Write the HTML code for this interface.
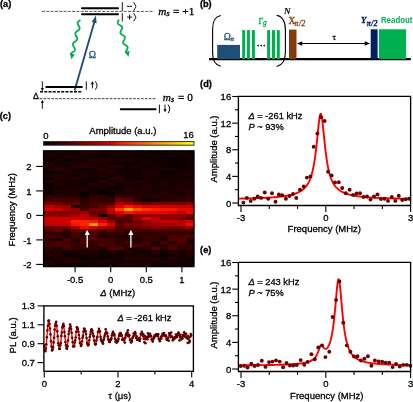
<!DOCTYPE html>
<html><head><meta charset="utf-8"><style>
html,body{margin:0;padding:0;background:#fff;}
svg{display:block;will-change:transform;}

</style></head><body>
<svg width="413" height="402" viewBox="0 0 413 402">
<text x="0.00" y="6.90" font-size="9.2" text-anchor="start" fill="#000" font-weight="bold" font-style="normal" font-family='"Liberation Sans", sans-serif' stroke="#000" stroke-width="0.3" >(a)</text>
<line x1="42.00" y1="11.40" x2="154.00" y2="11.40" stroke="#444" stroke-width="0.9" stroke-dasharray="3,1.3"/>
<line x1="82.00" y1="8.20" x2="118.00" y2="8.20" stroke="#000" stroke-width="2.0" stroke-linecap="round"/>
<line x1="82.00" y1="14.25" x2="118.00" y2="14.25" stroke="#000" stroke-width="2.0" stroke-linecap="round"/>
<line x1="122.30" y1="2.20" x2="122.30" y2="10.90" stroke="#000" stroke-width="0.9" />
<line x1="122.30" y1="13.10" x2="122.30" y2="21.40" stroke="#000" stroke-width="0.9" />
<line x1="127.00" y1="6.30" x2="132.20" y2="6.30" stroke="#000" stroke-width="0.9" />
<line x1="127.00" y1="17.10" x2="132.20" y2="17.10" stroke="#000" stroke-width="0.9" />
<line x1="129.60" y1="14.50" x2="129.60" y2="19.70" stroke="#000" stroke-width="0.9" />
<path d="M133.6,2.2 L136,6.5 L133.6,10.9" fill="none" stroke="#000" stroke-width="0.9"/>
<path d="M133.6,13.1 L136,17.3 L133.6,21.4" fill="none" stroke="#000" stroke-width="0.9"/>
<text x="158.30" y="14.70" font-size="11.3" text-anchor="start" fill="#000" font-weight="normal" font-style="italic" font-family='"Liberation Serif", serif' stroke="#000" stroke-width="0.3" >m</text>
<text x="166.60" y="16.30" font-size="8" text-anchor="start" fill="#000" font-weight="normal" font-style="italic" font-family='"Liberation Serif", serif' stroke="#000" stroke-width="0.3" >s</text>
<text x="173.10" y="14.70" font-size="11.3" text-anchor="start" fill="#000" font-weight="normal" font-style="normal" font-family='"Liberation Serif", serif' stroke="#000" stroke-width="0.3" >= +1</text>
<line x1="74.60" y1="90.60" x2="94.50" y2="21.50" stroke="#1f4e79" stroke-width="1.9" />
<path d="M95.9,15.6 L91.7,22.0 L96.6,23.3 Z" fill="#1f4e79"/>
<text x="88.80" y="57.80" font-size="9.8" text-anchor="start" fill="#1f4e79" font-weight="normal" font-style="normal" font-family='"Liberation Serif", serif' stroke="#1f4e79" stroke-width="0.3" >Ω</text>
<path d="M79.80,20.40 L79.32,20.74 L78.86,21.08 L78.45,21.43 L78.11,21.80 L77.84,22.19 L77.68,22.60 L77.61,23.03 L77.63,23.48 L77.75,23.95 L77.94,24.44 L78.19,24.94 L78.48,25.44 L78.77,25.96 L79.06,26.46 L79.31,26.96 L79.50,27.45 L79.62,27.92 L79.64,28.37 L79.57,28.80 L79.41,29.21 L79.15,29.60 L78.80,29.96 L78.39,30.32 L77.93,30.66 L77.45,31.00 L76.97,31.34 L76.51,31.68 L76.10,32.03 L75.76,32.40 L75.50,32.79 L75.33,33.20 L75.26,33.63 L75.29,34.08 L75.40,34.55 L75.59,35.04 L75.84,35.54 L76.13,36.04 L76.42,36.55 L76.71,37.06 L76.96,37.56 L77.15,38.05 L77.27,38.52 L77.29,38.97 L77.22,39.40 L77.06,39.81 L76.80,40.20 L76.45,40.56 L76.04,40.92 L75.58,41.26 L75.10,41.60 L74.62,41.94 L74.16,42.28 L73.75,42.63 L73.41,43.00 L73.15,43.39 L72.98,43.80 L72.91,44.23 L72.94,44.68 L73.05,45.15 L73.24,45.64 L73.49,46.14 L73.78,46.64 L74.08,47.15 L74.36,47.66 L74.61,48.16 L74.80,48.65 L74.92,49.12 L74.94,49.57 L74.87,50.00 L74.71,50.41 L74.45,50.79 L74.10,51.16 L73.69,51.52 L73.23,51.86 L72.75,52.20 L72.27,52.54 L71.81,52.88 L71.40,53.23 L71.06,53.60 L70.80,53.99" fill="none" stroke="#00b050" stroke-width="1.8" stroke-linecap="round"/>
<path d="M71.20,59.20 L69.85,53.27 L74.93,54.39 Z" fill="#00b050"/>
<path d="M118.60,20.20 L118.32,20.70 L118.07,21.20 L117.87,21.68 L117.73,22.14 L117.67,22.59 L117.71,23.00 L117.84,23.39 L118.07,23.76 L118.39,24.10 L118.78,24.42 L119.23,24.72 L119.71,25.02 L120.20,25.31 L120.69,25.61 L121.14,25.91 L121.53,26.23 L121.84,26.57 L122.07,26.94 L122.20,27.33 L122.24,27.74 L122.18,28.19 L122.04,28.65 L121.84,29.13 L121.59,29.63 L121.31,30.13 L121.04,30.63 L120.79,31.13 L120.58,31.61 L120.44,32.08 L120.39,32.52 L120.42,32.93 L120.56,33.32 L120.78,33.69 L121.10,34.03 L121.49,34.35 L121.94,34.65 L122.42,34.95 L122.92,35.24 L123.40,35.54 L123.85,35.84 L124.24,36.16 L124.55,36.50 L124.78,36.87 L124.92,37.26 L124.95,37.67 L124.90,38.12 L124.76,38.58 L124.55,39.06 L124.30,39.56 L124.03,40.06 L123.75,40.56 L123.50,41.06 L123.30,41.54 L123.16,42.01 L123.10,42.45 L123.14,42.86 L123.27,43.26 L123.50,43.62 L123.81,43.96 L124.20,44.28 L124.65,44.59 L125.14,44.88 L125.63,45.17 L126.11,45.47 L126.56,45.77 L126.95,46.09 L127.27,46.43 L127.50,46.80 L127.63,47.19 L127.66,47.60 L127.61,48.05 L127.47,48.51 L127.27,48.99 L127.01,49.49 L126.74,49.99 L126.46,50.49 L126.21,50.99 L126.01,51.47 L125.87,51.94 L125.81,52.38" fill="none" stroke="#00b050" stroke-width="1.8" stroke-linecap="round"/>
<path d="M128.60,56.80 L124.64,52.18 L129.66,50.81 Z" fill="#00b050"/>
<line x1="46.30" y1="86.90" x2="81.80" y2="86.90" stroke="#000" stroke-width="2.0" stroke-linecap="round"/>
<line x1="40.00" y1="91.80" x2="81.80" y2="91.80" stroke="#000" stroke-width="1.5" stroke-dasharray="3,1.25"/>
<line x1="39.60" y1="98.70" x2="156.00" y2="98.70" stroke="#222" stroke-width="0.9" stroke-dasharray="2.6,1.3"/>
<line x1="120.80" y1="109.20" x2="155.60" y2="109.20" stroke="#000" stroke-width="2.0" stroke-linecap="round"/>
<line x1="42.35" y1="81.20" x2="42.35" y2="88.50" stroke="#000" stroke-width="0.9" />
<path d="M42.35,91.2 L40.85,87.9 L43.85,87.9 Z" fill="#000"/>
<line x1="42.35" y1="102.50" x2="42.35" y2="108.70" stroke="#000" stroke-width="0.9" />
<path d="M42.35,99.8 L40.85,103.1 L43.85,103.1 Z" fill="#000"/>
<text x="33.00" y="98.80" font-size="8.6" text-anchor="start" fill="#000" font-weight="normal" font-style="normal" font-family='"Liberation Sans", sans-serif' stroke="#000" stroke-width="0.3" >Δ</text>
<line x1="86.30" y1="81.40" x2="86.30" y2="89.60" stroke="#000" stroke-width="0.95" />
<line x1="92.40" y1="83.60" x2="92.40" y2="88.40" stroke="#000" stroke-width="0.9" />
<path d="M92.40,81.30 L90.80,84.20 L94.00,84.20 Z" fill="#000"/>
<path d="M95.30,81.40 Q98.70,85.50 95.30,89.60" fill="none" stroke="#000" stroke-width="1.0"/>
<line x1="159.40" y1="104.60" x2="159.40" y2="113.20" stroke="#000" stroke-width="0.95" />
<line x1="165.00" y1="104.60" x2="165.00" y2="109.80" stroke="#000" stroke-width="0.9" />
<path d="M165.00,112.20 L163.40,109.30 L166.60,109.30 Z" fill="#000"/>
<path d="M168.00,104.60 Q171.40,108.90 168.00,113.20" fill="none" stroke="#000" stroke-width="1.0"/>
<text x="162.70" y="100.60" font-size="11.3" text-anchor="start" fill="#000" font-weight="normal" font-style="italic" font-family='"Liberation Serif", serif' stroke="#000" stroke-width="0.3" >m</text>
<text x="170.90" y="102.40" font-size="8" text-anchor="start" fill="#000" font-weight="normal" font-style="italic" font-family='"Liberation Serif", serif' stroke="#000" stroke-width="0.3" >s</text>
<text x="178.00" y="100.60" font-size="11.3" text-anchor="start" fill="#000" font-weight="normal" font-style="normal" font-family='"Liberation Serif", serif' stroke="#000" stroke-width="0.3" >= 0</text>
<text x="199.90" y="7.30" font-size="9.2" text-anchor="start" fill="#000" font-weight="bold" font-style="normal" font-family='"Liberation Sans", sans-serif' stroke="#000" stroke-width="0.3" >(b)</text>
<line x1="209.00" y1="59.10" x2="410.80" y2="59.10" stroke="#000" stroke-width="2.2" />
<rect x="217.20" y="44.90" width="22.80" height="14.20" fill="#1f4e79" />
<rect x="242.20" y="30.10" width="3.00" height="29.00" fill="#00b050" />
<rect x="246.90" y="30.10" width="3.00" height="29.00" fill="#00b050" />
<rect x="251.90" y="30.10" width="3.00" height="29.00" fill="#00b050" />
<rect x="267.10" y="30.10" width="3.00" height="29.00" fill="#00b050" />
<rect x="272.00" y="30.10" width="3.00" height="29.00" fill="#00b050" />
<rect x="276.80" y="30.10" width="3.00" height="29.00" fill="#00b050" />
<circle cx="258.2" cy="45.6" r="0.85" fill="#000"/>
<circle cx="261.2" cy="45.6" r="0.85" fill="#000"/>
<circle cx="264.2" cy="45.6" r="0.85" fill="#000"/>
<path d="M220.8,15.5 C215,16.5 212.6,21 212.6,29 L212.6,53 C212.6,61 215,65 220.8,66.3" fill="none" stroke="#000" stroke-width="1.1"/>
<path d="M276.6,15.3 C283.4,16.5 285.4,22 285.4,30 L285.4,52 C285.4,60 283.4,65 276.6,66.5" fill="none" stroke="#000" stroke-width="1.1"/>
<text x="284.00" y="14.00" font-size="9.0" text-anchor="start" fill="#000" font-weight="bold" font-style="italic" font-family='"Liberation Serif", serif' stroke="#000" stroke-width="0.1" >N</text>
<text x="223.70" y="40.00" font-size="9.5" text-anchor="start" fill="#1f4e79" font-weight="normal" font-style="normal" font-family='"Liberation Serif", serif' stroke="#1f4e79" stroke-width="0.3" >Ω</text>
<text x="230.60" y="41.20" font-size="7" text-anchor="start" fill="#1f4e79" font-weight="normal" font-style="italic" font-family='"Liberation Serif", serif' stroke="#1f4e79" stroke-width="0.3" >π</text>
<text x="258.60" y="23.60" font-size="8.2" text-anchor="start" fill="#00b050" font-weight="normal" font-style="normal" font-family='"Liberation Serif", serif' stroke="#00b050" stroke-width="0.3" >Γ</text>
<text x="263.00" y="25.20" font-size="7.5" text-anchor="start" fill="#00b050" font-weight="normal" font-style="italic" font-family='"Liberation Serif", serif' stroke="#00b050" stroke-width="0.3" >g</text>
<rect x="289.00" y="29.60" width="7.50" height="29.50" fill="#843c0c" />
<text x="288.50" y="24.00" font-size="9.3" text-anchor="start" fill="#843c0c" font-weight="normal" font-style="normal" font-family='"Liberation Serif", serif' stroke="#843c0c" stroke-width="0.3" >X</text>
<text x="294.60" y="26.00" font-size="7.6" text-anchor="start" fill="#843c0c" font-weight="normal" font-style="italic" font-family='"Liberation Serif", serif' stroke="#843c0c" stroke-width="0.3" letter-spacing="0.5">π/2</text>
<line x1="299.00" y1="43.50" x2="368.00" y2="43.50" stroke="#000" stroke-width="1.0" />
<path d="M297.0,43.5 L302.2,41.3 L302.2,45.7 Z" fill="#000"/>
<path d="M370.0,43.5 L364.8,41.3 L364.8,45.7 Z" fill="#000"/>
<text x="332.40" y="39.70" font-size="8.5" text-anchor="start" fill="#000" font-weight="normal" font-style="normal" font-family='"Liberation Serif", serif' stroke="#000" stroke-width="0.3" >τ</text>
<rect x="370.70" y="29.30" width="6.90" height="29.80" fill="#002060" />
<rect x="378.90" y="29.30" width="27.20" height="29.80" fill="#00b050" />
<text x="361.00" y="22.50" font-size="8.8" text-anchor="start" fill="#002060" font-weight="bold" font-style="italic" font-family='"Liberation Serif", serif' stroke="#002060" stroke-width="0.3" >Y</text>
<text x="366.80" y="25.60" font-size="7.6" text-anchor="start" fill="#002060" font-weight="bold" font-style="italic" font-family='"Liberation Serif", serif' stroke="#002060" stroke-width="0.3" letter-spacing="0.4">π/2</text>
<text x="380.90" y="23.40" font-size="8.3" text-anchor="start" fill="#00b050" font-weight="bold" font-style="normal" font-family='"Liberation Sans", sans-serif' textLength="31.6" lengthAdjust="spacingAndGlyphs">Readout</text>
<text x="-0.20" y="119.10" font-size="9.2" text-anchor="start" fill="#000" font-weight="bold" font-style="normal" font-family='"Liberation Sans", sans-serif' stroke="#000" stroke-width="0.3" >(c)</text>
<text x="43.30" y="139.00" font-size="9.5" text-anchor="start" fill="#000" font-weight="normal" font-style="normal" font-family='"Liberation Sans", sans-serif' stroke="#000" stroke-width="0.3" >0</text>
<text x="193.80" y="138.20" font-size="9.5" text-anchor="end" fill="#000" font-weight="normal" font-style="normal" font-family='"Liberation Sans", sans-serif' stroke="#000" stroke-width="0.3" >16</text>
<text x="89.30" y="134.30" font-size="9.5" text-anchor="start" fill="#000" font-weight="normal" font-style="normal" font-family='"Liberation Sans", sans-serif' stroke="#000" stroke-width="0.3" >Amplitude (a.u.)</text>
<defs><linearGradient id="cb" x1="0" x2="1" y1="0" y2="0"><stop offset="0.00" stop-color="#000000"/><stop offset="0.05" stop-color="#180000"/><stop offset="0.10" stop-color="#310000"/><stop offset="0.15" stop-color="#490000"/><stop offset="0.20" stop-color="#620000"/><stop offset="0.25" stop-color="#7a0000"/><stop offset="0.30" stop-color="#930000"/><stop offset="0.35" stop-color="#ab0000"/><stop offset="0.40" stop-color="#c40000"/><stop offset="0.45" stop-color="#dc0000"/><stop offset="0.50" stop-color="#f51700"/><stop offset="0.55" stop-color="#ff2e00"/><stop offset="0.60" stop-color="#ff4500"/><stop offset="0.65" stop-color="#ff5c00"/><stop offset="0.70" stop-color="#ff7300"/><stop offset="0.75" stop-color="#ff8b00"/><stop offset="0.80" stop-color="#ffa200"/><stop offset="0.85" stop-color="#ffb900"/><stop offset="0.90" stop-color="#ffd000"/><stop offset="0.95" stop-color="#ffe700"/><stop offset="1.00" stop-color="#ffff00"/></linearGradient></defs>
<rect x="43.6" y="141.6" width="150.4" height="3.6" fill="url(#cb)" stroke="#222" stroke-width="0.9"/>
<g shape-rendering="crispEdges">
<rect x="43.60" y="150.80" width="10.40" height="2.07" fill="#1b0000"/>
<rect x="53.70" y="150.80" width="9.13" height="2.07" fill="#200000"/>
<rect x="62.52" y="150.80" width="9.13" height="2.07" fill="#130000"/>
<rect x="71.35" y="150.80" width="9.13" height="2.07" fill="#1a0000"/>
<rect x="80.18" y="150.80" width="9.13" height="2.07" fill="#260000"/>
<rect x="89.00" y="150.80" width="9.13" height="2.07" fill="#260000"/>
<rect x="97.83" y="150.80" width="9.13" height="2.07" fill="#0d0000"/>
<rect x="106.66" y="150.80" width="9.13" height="2.07" fill="#100000"/>
<rect x="115.49" y="150.80" width="9.13" height="2.07" fill="#0b0000"/>
<rect x="124.31" y="150.80" width="9.13" height="2.07" fill="#090000"/>
<rect x="133.14" y="150.80" width="9.13" height="2.07" fill="#140000"/>
<rect x="141.97" y="150.80" width="9.13" height="2.07" fill="#120000"/>
<rect x="150.79" y="150.80" width="9.13" height="2.07" fill="#0c0000"/>
<rect x="159.62" y="150.80" width="9.13" height="2.07" fill="#140000"/>
<rect x="168.45" y="150.80" width="9.13" height="2.07" fill="#170000"/>
<rect x="177.28" y="150.80" width="9.13" height="2.07" fill="#160000"/>
<rect x="186.10" y="150.80" width="8.20" height="2.07" fill="#0b0000"/>
<rect x="43.60" y="152.57" width="10.40" height="3.36" fill="#1b0000"/>
<rect x="53.70" y="152.57" width="9.13" height="3.36" fill="#120000"/>
<rect x="62.52" y="152.57" width="9.13" height="3.36" fill="#170000"/>
<rect x="71.35" y="152.57" width="9.13" height="3.36" fill="#120000"/>
<rect x="80.18" y="152.57" width="9.13" height="3.36" fill="#1f0000"/>
<rect x="89.00" y="152.57" width="9.13" height="3.36" fill="#170000"/>
<rect x="97.83" y="152.57" width="9.13" height="3.36" fill="#0e0000"/>
<rect x="106.66" y="152.57" width="9.13" height="3.36" fill="#1b0000"/>
<rect x="115.49" y="152.57" width="9.13" height="3.36" fill="#220000"/>
<rect x="124.31" y="152.57" width="9.13" height="3.36" fill="#170000"/>
<rect x="133.14" y="152.57" width="9.13" height="3.36" fill="#0f0000"/>
<rect x="141.97" y="152.57" width="9.13" height="3.36" fill="#180000"/>
<rect x="150.79" y="152.57" width="9.13" height="3.36" fill="#130000"/>
<rect x="159.62" y="152.57" width="9.13" height="3.36" fill="#0b0000"/>
<rect x="168.45" y="152.57" width="9.13" height="3.36" fill="#160000"/>
<rect x="177.28" y="152.57" width="9.13" height="3.36" fill="#130000"/>
<rect x="186.10" y="152.57" width="8.20" height="3.36" fill="#110000"/>
<rect x="43.60" y="155.63" width="10.40" height="3.36" fill="#150000"/>
<rect x="53.70" y="155.63" width="9.13" height="3.36" fill="#0c0000"/>
<rect x="62.52" y="155.63" width="9.13" height="3.36" fill="#1e0000"/>
<rect x="71.35" y="155.63" width="9.13" height="3.36" fill="#1b0000"/>
<rect x="80.18" y="155.63" width="9.13" height="3.36" fill="#150000"/>
<rect x="89.00" y="155.63" width="9.13" height="3.36" fill="#100000"/>
<rect x="97.83" y="155.63" width="9.13" height="3.36" fill="#160000"/>
<rect x="106.66" y="155.63" width="9.13" height="3.36" fill="#180000"/>
<rect x="115.49" y="155.63" width="9.13" height="3.36" fill="#120000"/>
<rect x="124.31" y="155.63" width="9.13" height="3.36" fill="#150000"/>
<rect x="133.14" y="155.63" width="9.13" height="3.36" fill="#110000"/>
<rect x="141.97" y="155.63" width="9.13" height="3.36" fill="#0a0000"/>
<rect x="150.79" y="155.63" width="9.13" height="3.36" fill="#190000"/>
<rect x="159.62" y="155.63" width="9.13" height="3.36" fill="#0f0000"/>
<rect x="168.45" y="155.63" width="9.13" height="3.36" fill="#0e0000"/>
<rect x="177.28" y="155.63" width="9.13" height="3.36" fill="#0a0000"/>
<rect x="186.10" y="155.63" width="8.20" height="3.36" fill="#160000"/>
<rect x="43.60" y="158.69" width="10.40" height="3.36" fill="#100000"/>
<rect x="53.70" y="158.69" width="9.13" height="3.36" fill="#1a0000"/>
<rect x="62.52" y="158.69" width="9.13" height="3.36" fill="#0c0000"/>
<rect x="71.35" y="158.69" width="9.13" height="3.36" fill="#190000"/>
<rect x="80.18" y="158.69" width="9.13" height="3.36" fill="#150000"/>
<rect x="89.00" y="158.69" width="9.13" height="3.36" fill="#200000"/>
<rect x="97.83" y="158.69" width="9.13" height="3.36" fill="#210000"/>
<rect x="106.66" y="158.69" width="9.13" height="3.36" fill="#1f0000"/>
<rect x="115.49" y="158.69" width="9.13" height="3.36" fill="#1f0000"/>
<rect x="124.31" y="158.69" width="9.13" height="3.36" fill="#1a0000"/>
<rect x="133.14" y="158.69" width="9.13" height="3.36" fill="#120000"/>
<rect x="141.97" y="158.69" width="9.13" height="3.36" fill="#180000"/>
<rect x="150.79" y="158.69" width="9.13" height="3.36" fill="#100000"/>
<rect x="159.62" y="158.69" width="9.13" height="3.36" fill="#110000"/>
<rect x="168.45" y="158.69" width="9.13" height="3.36" fill="#0f0000"/>
<rect x="177.28" y="158.69" width="9.13" height="3.36" fill="#0f0000"/>
<rect x="186.10" y="158.69" width="8.20" height="3.36" fill="#140000"/>
<rect x="43.60" y="161.75" width="10.40" height="3.36" fill="#280000"/>
<rect x="53.70" y="161.75" width="9.13" height="3.36" fill="#110000"/>
<rect x="62.52" y="161.75" width="9.13" height="3.36" fill="#1f0000"/>
<rect x="71.35" y="161.75" width="9.13" height="3.36" fill="#1e0000"/>
<rect x="80.18" y="161.75" width="9.13" height="3.36" fill="#200000"/>
<rect x="89.00" y="161.75" width="9.13" height="3.36" fill="#180000"/>
<rect x="97.83" y="161.75" width="9.13" height="3.36" fill="#1c0000"/>
<rect x="106.66" y="161.75" width="9.13" height="3.36" fill="#0b0000"/>
<rect x="115.49" y="161.75" width="9.13" height="3.36" fill="#0c0000"/>
<rect x="124.31" y="161.75" width="9.13" height="3.36" fill="#100000"/>
<rect x="133.14" y="161.75" width="9.13" height="3.36" fill="#0c0000"/>
<rect x="141.97" y="161.75" width="9.13" height="3.36" fill="#160000"/>
<rect x="150.79" y="161.75" width="9.13" height="3.36" fill="#100000"/>
<rect x="159.62" y="161.75" width="9.13" height="3.36" fill="#110000"/>
<rect x="168.45" y="161.75" width="9.13" height="3.36" fill="#0e0000"/>
<rect x="177.28" y="161.75" width="9.13" height="3.36" fill="#0b0000"/>
<rect x="186.10" y="161.75" width="8.20" height="3.36" fill="#160000"/>
<rect x="43.60" y="164.81" width="10.40" height="3.36" fill="#1b0000"/>
<rect x="53.70" y="164.81" width="9.13" height="3.36" fill="#200000"/>
<rect x="62.52" y="164.81" width="9.13" height="3.36" fill="#120000"/>
<rect x="71.35" y="164.81" width="9.13" height="3.36" fill="#270000"/>
<rect x="80.18" y="164.81" width="9.13" height="3.36" fill="#240000"/>
<rect x="89.00" y="164.81" width="9.13" height="3.36" fill="#200000"/>
<rect x="97.83" y="164.81" width="9.13" height="3.36" fill="#190000"/>
<rect x="106.66" y="164.81" width="9.13" height="3.36" fill="#240000"/>
<rect x="115.49" y="164.81" width="9.13" height="3.36" fill="#210000"/>
<rect x="124.31" y="164.81" width="9.13" height="3.36" fill="#120000"/>
<rect x="133.14" y="164.81" width="9.13" height="3.36" fill="#1b0000"/>
<rect x="141.97" y="164.81" width="9.13" height="3.36" fill="#0c0000"/>
<rect x="150.79" y="164.81" width="9.13" height="3.36" fill="#190000"/>
<rect x="159.62" y="164.81" width="9.13" height="3.36" fill="#0c0000"/>
<rect x="168.45" y="164.81" width="9.13" height="3.36" fill="#0e0000"/>
<rect x="177.28" y="164.81" width="9.13" height="3.36" fill="#0b0000"/>
<rect x="186.10" y="164.81" width="8.20" height="3.36" fill="#140000"/>
<rect x="43.60" y="167.87" width="10.40" height="3.36" fill="#220000"/>
<rect x="53.70" y="167.87" width="9.13" height="3.36" fill="#280000"/>
<rect x="62.52" y="167.87" width="9.13" height="3.36" fill="#240000"/>
<rect x="71.35" y="167.87" width="9.13" height="3.36" fill="#1b0000"/>
<rect x="80.18" y="167.87" width="9.13" height="3.36" fill="#0c0000"/>
<rect x="89.00" y="167.87" width="9.13" height="3.36" fill="#190000"/>
<rect x="97.83" y="167.87" width="9.13" height="3.36" fill="#270000"/>
<rect x="106.66" y="167.87" width="9.13" height="3.36" fill="#220000"/>
<rect x="115.49" y="167.87" width="9.13" height="3.36" fill="#190000"/>
<rect x="124.31" y="167.87" width="9.13" height="3.36" fill="#120000"/>
<rect x="133.14" y="167.87" width="9.13" height="3.36" fill="#110000"/>
<rect x="141.97" y="167.87" width="9.13" height="3.36" fill="#1d0000"/>
<rect x="150.79" y="167.87" width="9.13" height="3.36" fill="#160000"/>
<rect x="159.62" y="167.87" width="9.13" height="3.36" fill="#1c0000"/>
<rect x="168.45" y="167.87" width="9.13" height="3.36" fill="#1b0000"/>
<rect x="177.28" y="167.87" width="9.13" height="3.36" fill="#120000"/>
<rect x="186.10" y="167.87" width="8.20" height="3.36" fill="#170000"/>
<rect x="43.60" y="170.93" width="10.40" height="3.36" fill="#0b0000"/>
<rect x="53.70" y="170.93" width="9.13" height="3.36" fill="#100000"/>
<rect x="62.52" y="170.93" width="9.13" height="3.36" fill="#210000"/>
<rect x="71.35" y="170.93" width="9.13" height="3.36" fill="#1e0000"/>
<rect x="80.18" y="170.93" width="9.13" height="3.36" fill="#190000"/>
<rect x="89.00" y="170.93" width="9.13" height="3.36" fill="#120000"/>
<rect x="97.83" y="170.93" width="9.13" height="3.36" fill="#1e0000"/>
<rect x="106.66" y="170.93" width="9.13" height="3.36" fill="#280000"/>
<rect x="115.49" y="170.93" width="9.13" height="3.36" fill="#170000"/>
<rect x="124.31" y="170.93" width="9.13" height="3.36" fill="#100000"/>
<rect x="133.14" y="170.93" width="9.13" height="3.36" fill="#130000"/>
<rect x="141.97" y="170.93" width="9.13" height="3.36" fill="#190000"/>
<rect x="150.79" y="170.93" width="9.13" height="3.36" fill="#170000"/>
<rect x="159.62" y="170.93" width="9.13" height="3.36" fill="#0e0000"/>
<rect x="168.45" y="170.93" width="9.13" height="3.36" fill="#0e0000"/>
<rect x="177.28" y="170.93" width="9.13" height="3.36" fill="#1a0000"/>
<rect x="186.10" y="170.93" width="8.20" height="3.36" fill="#190000"/>
<rect x="43.60" y="173.99" width="10.40" height="3.36" fill="#1f0000"/>
<rect x="53.70" y="173.99" width="9.13" height="3.36" fill="#260000"/>
<rect x="62.52" y="173.99" width="9.13" height="3.36" fill="#140000"/>
<rect x="71.35" y="173.99" width="9.13" height="3.36" fill="#0b0000"/>
<rect x="80.18" y="173.99" width="9.13" height="3.36" fill="#250000"/>
<rect x="89.00" y="173.99" width="9.13" height="3.36" fill="#130000"/>
<rect x="97.83" y="173.99" width="9.13" height="3.36" fill="#210000"/>
<rect x="106.66" y="173.99" width="9.13" height="3.36" fill="#0e0000"/>
<rect x="115.49" y="173.99" width="9.13" height="3.36" fill="#1f0000"/>
<rect x="124.31" y="173.99" width="9.13" height="3.36" fill="#190000"/>
<rect x="133.14" y="173.99" width="9.13" height="3.36" fill="#120000"/>
<rect x="141.97" y="173.99" width="9.13" height="3.36" fill="#1c0000"/>
<rect x="150.79" y="173.99" width="9.13" height="3.36" fill="#180000"/>
<rect x="159.62" y="173.99" width="9.13" height="3.36" fill="#110000"/>
<rect x="168.45" y="173.99" width="9.13" height="3.36" fill="#110000"/>
<rect x="177.28" y="173.99" width="9.13" height="3.36" fill="#190000"/>
<rect x="186.10" y="173.99" width="8.20" height="3.36" fill="#1f0000"/>
<rect x="43.60" y="177.05" width="10.40" height="3.36" fill="#0e0000"/>
<rect x="53.70" y="177.05" width="9.13" height="3.36" fill="#250000"/>
<rect x="62.52" y="177.05" width="9.13" height="3.36" fill="#230000"/>
<rect x="71.35" y="177.05" width="9.13" height="3.36" fill="#280000"/>
<rect x="80.18" y="177.05" width="9.13" height="3.36" fill="#150000"/>
<rect x="89.00" y="177.05" width="9.13" height="3.36" fill="#100000"/>
<rect x="97.83" y="177.05" width="9.13" height="3.36" fill="#110000"/>
<rect x="106.66" y="177.05" width="9.13" height="3.36" fill="#240000"/>
<rect x="115.49" y="177.05" width="9.13" height="3.36" fill="#280000"/>
<rect x="124.31" y="177.05" width="9.13" height="3.36" fill="#190000"/>
<rect x="133.14" y="177.05" width="9.13" height="3.36" fill="#140000"/>
<rect x="141.97" y="177.05" width="9.13" height="3.36" fill="#1c0000"/>
<rect x="150.79" y="177.05" width="9.13" height="3.36" fill="#130000"/>
<rect x="159.62" y="177.05" width="9.13" height="3.36" fill="#1a0000"/>
<rect x="168.45" y="177.05" width="9.13" height="3.36" fill="#160000"/>
<rect x="177.28" y="177.05" width="9.13" height="3.36" fill="#100000"/>
<rect x="186.10" y="177.05" width="8.20" height="3.36" fill="#180000"/>
<rect x="43.60" y="180.11" width="10.40" height="3.36" fill="#240000"/>
<rect x="53.70" y="180.11" width="9.13" height="3.36" fill="#130000"/>
<rect x="62.52" y="180.11" width="9.13" height="3.36" fill="#120000"/>
<rect x="71.35" y="180.11" width="9.13" height="3.36" fill="#170000"/>
<rect x="80.18" y="180.11" width="9.13" height="3.36" fill="#1b0000"/>
<rect x="89.00" y="180.11" width="9.13" height="3.36" fill="#0c0000"/>
<rect x="97.83" y="180.11" width="9.13" height="3.36" fill="#240000"/>
<rect x="106.66" y="180.11" width="9.13" height="3.36" fill="#1a0000"/>
<rect x="115.49" y="180.11" width="9.13" height="3.36" fill="#220000"/>
<rect x="124.31" y="180.11" width="9.13" height="3.36" fill="#1a0000"/>
<rect x="133.14" y="180.11" width="9.13" height="3.36" fill="#200000"/>
<rect x="141.97" y="180.11" width="9.13" height="3.36" fill="#1d0000"/>
<rect x="150.79" y="180.11" width="9.13" height="3.36" fill="#160000"/>
<rect x="159.62" y="180.11" width="9.13" height="3.36" fill="#1c0000"/>
<rect x="168.45" y="180.11" width="9.13" height="3.36" fill="#150000"/>
<rect x="177.28" y="180.11" width="9.13" height="3.36" fill="#1c0000"/>
<rect x="186.10" y="180.11" width="8.20" height="3.36" fill="#1b0000"/>
<rect x="43.60" y="183.17" width="10.40" height="3.36" fill="#0b0000"/>
<rect x="53.70" y="183.17" width="9.13" height="3.36" fill="#210000"/>
<rect x="62.52" y="183.17" width="9.13" height="3.36" fill="#130000"/>
<rect x="71.35" y="183.17" width="9.13" height="3.36" fill="#1a0000"/>
<rect x="80.18" y="183.17" width="9.13" height="3.36" fill="#0e0000"/>
<rect x="89.00" y="183.17" width="9.13" height="3.36" fill="#280000"/>
<rect x="97.83" y="183.17" width="9.13" height="3.36" fill="#190000"/>
<rect x="106.66" y="183.17" width="9.13" height="3.36" fill="#240000"/>
<rect x="115.49" y="183.17" width="9.13" height="3.36" fill="#0c0000"/>
<rect x="124.31" y="183.17" width="9.13" height="3.36" fill="#1d0000"/>
<rect x="133.14" y="183.17" width="9.13" height="3.36" fill="#150000"/>
<rect x="141.97" y="183.17" width="9.13" height="3.36" fill="#1f0000"/>
<rect x="150.79" y="183.17" width="9.13" height="3.36" fill="#1c0000"/>
<rect x="159.62" y="183.17" width="9.13" height="3.36" fill="#1f0000"/>
<rect x="168.45" y="183.17" width="9.13" height="3.36" fill="#130000"/>
<rect x="177.28" y="183.17" width="9.13" height="3.36" fill="#1f0000"/>
<rect x="186.10" y="183.17" width="8.20" height="3.36" fill="#230000"/>
<rect x="43.60" y="186.23" width="10.40" height="3.36" fill="#0f0000"/>
<rect x="53.70" y="186.23" width="9.13" height="3.36" fill="#170000"/>
<rect x="62.52" y="186.23" width="9.13" height="3.36" fill="#190000"/>
<rect x="71.35" y="186.23" width="9.13" height="3.36" fill="#1c0000"/>
<rect x="80.18" y="186.23" width="9.13" height="3.36" fill="#1d0000"/>
<rect x="89.00" y="186.23" width="9.13" height="3.36" fill="#150000"/>
<rect x="97.83" y="186.23" width="9.13" height="3.36" fill="#1d0000"/>
<rect x="106.66" y="186.23" width="9.13" height="3.36" fill="#0e0000"/>
<rect x="115.49" y="186.23" width="9.13" height="3.36" fill="#120000"/>
<rect x="124.31" y="186.23" width="9.13" height="3.36" fill="#1e0000"/>
<rect x="133.14" y="186.23" width="9.13" height="3.36" fill="#170000"/>
<rect x="141.97" y="186.23" width="9.13" height="3.36" fill="#240000"/>
<rect x="150.79" y="186.23" width="9.13" height="3.36" fill="#1e0000"/>
<rect x="159.62" y="186.23" width="9.13" height="3.36" fill="#190000"/>
<rect x="168.45" y="186.23" width="9.13" height="3.36" fill="#1f0000"/>
<rect x="177.28" y="186.23" width="9.13" height="3.36" fill="#230000"/>
<rect x="186.10" y="186.23" width="8.20" height="3.36" fill="#160000"/>
<rect x="43.60" y="189.29" width="10.40" height="3.36" fill="#0e0000"/>
<rect x="53.70" y="189.29" width="9.13" height="3.36" fill="#1f0000"/>
<rect x="62.52" y="189.29" width="9.13" height="3.36" fill="#230000"/>
<rect x="71.35" y="189.29" width="9.13" height="3.36" fill="#1c0000"/>
<rect x="80.18" y="189.29" width="9.13" height="3.36" fill="#1f0000"/>
<rect x="89.00" y="189.29" width="9.13" height="3.36" fill="#160000"/>
<rect x="97.83" y="189.29" width="9.13" height="3.36" fill="#0b0000"/>
<rect x="106.66" y="189.29" width="9.13" height="3.36" fill="#170000"/>
<rect x="115.49" y="189.29" width="9.13" height="3.36" fill="#150000"/>
<rect x="124.31" y="189.29" width="9.13" height="3.36" fill="#200000"/>
<rect x="133.14" y="189.29" width="9.13" height="3.36" fill="#210000"/>
<rect x="141.97" y="189.29" width="9.13" height="3.36" fill="#260000"/>
<rect x="150.79" y="189.29" width="9.13" height="3.36" fill="#170000"/>
<rect x="159.62" y="189.29" width="9.13" height="3.36" fill="#1f0000"/>
<rect x="168.45" y="189.29" width="9.13" height="3.36" fill="#230000"/>
<rect x="177.28" y="189.29" width="9.13" height="3.36" fill="#210000"/>
<rect x="186.10" y="189.29" width="8.20" height="3.36" fill="#250000"/>
<rect x="43.60" y="192.35" width="10.40" height="3.36" fill="#0e0000"/>
<rect x="53.70" y="192.35" width="9.13" height="3.36" fill="#200000"/>
<rect x="62.52" y="192.35" width="9.13" height="3.36" fill="#1b0000"/>
<rect x="71.35" y="192.35" width="9.13" height="3.36" fill="#1d0000"/>
<rect x="80.18" y="192.35" width="9.13" height="3.36" fill="#0b0000"/>
<rect x="89.00" y="192.35" width="9.13" height="3.36" fill="#170000"/>
<rect x="97.83" y="192.35" width="9.13" height="3.36" fill="#090000"/>
<rect x="106.66" y="192.35" width="9.13" height="3.36" fill="#110000"/>
<rect x="115.49" y="192.35" width="9.13" height="3.36" fill="#200000"/>
<rect x="124.31" y="192.35" width="9.13" height="3.36" fill="#230000"/>
<rect x="133.14" y="192.35" width="9.13" height="3.36" fill="#230000"/>
<rect x="141.97" y="192.35" width="9.13" height="3.36" fill="#220000"/>
<rect x="150.79" y="192.35" width="9.13" height="3.36" fill="#1b0000"/>
<rect x="159.62" y="192.35" width="9.13" height="3.36" fill="#270000"/>
<rect x="168.45" y="192.35" width="9.13" height="3.36" fill="#210000"/>
<rect x="177.28" y="192.35" width="9.13" height="3.36" fill="#180000"/>
<rect x="186.10" y="192.35" width="8.20" height="3.36" fill="#260000"/>
<rect x="43.60" y="195.41" width="10.40" height="3.36" fill="#2c0000"/>
<rect x="53.70" y="195.41" width="9.13" height="3.36" fill="#270000"/>
<rect x="62.52" y="195.41" width="9.13" height="3.36" fill="#270000"/>
<rect x="71.35" y="195.41" width="9.13" height="3.36" fill="#2c0000"/>
<rect x="80.18" y="195.41" width="9.13" height="3.36" fill="#130000"/>
<rect x="89.00" y="195.41" width="9.13" height="3.36" fill="#2c0000"/>
<rect x="97.83" y="195.41" width="9.13" height="3.36" fill="#2c0000"/>
<rect x="106.66" y="195.41" width="9.13" height="3.36" fill="#1d0000"/>
<rect x="115.49" y="195.41" width="9.13" height="3.36" fill="#3a0000"/>
<rect x="124.31" y="195.41" width="9.13" height="3.36" fill="#310000"/>
<rect x="133.14" y="195.41" width="9.13" height="3.36" fill="#270000"/>
<rect x="141.97" y="195.41" width="9.13" height="3.36" fill="#1d0000"/>
<rect x="150.79" y="195.41" width="9.13" height="3.36" fill="#270000"/>
<rect x="159.62" y="195.41" width="9.13" height="3.36" fill="#270000"/>
<rect x="168.45" y="195.41" width="9.13" height="3.36" fill="#270000"/>
<rect x="177.28" y="195.41" width="9.13" height="3.36" fill="#270000"/>
<rect x="186.10" y="195.41" width="8.20" height="3.36" fill="#2c0000"/>
<rect x="43.60" y="198.47" width="10.40" height="3.36" fill="#3f0000"/>
<rect x="53.70" y="198.47" width="9.13" height="3.36" fill="#490000"/>
<rect x="62.52" y="198.47" width="9.13" height="3.36" fill="#3f0000"/>
<rect x="71.35" y="198.47" width="9.13" height="3.36" fill="#3f0000"/>
<rect x="80.18" y="198.47" width="9.13" height="3.36" fill="#270000"/>
<rect x="89.00" y="198.47" width="9.13" height="3.36" fill="#3a0000"/>
<rect x="97.83" y="198.47" width="9.13" height="3.36" fill="#310000"/>
<rect x="106.66" y="198.47" width="9.13" height="3.36" fill="#310000"/>
<rect x="115.49" y="198.47" width="9.13" height="3.36" fill="#6b0000"/>
<rect x="124.31" y="198.47" width="9.13" height="3.36" fill="#580000"/>
<rect x="133.14" y="198.47" width="9.13" height="3.36" fill="#2c0000"/>
<rect x="141.97" y="198.47" width="9.13" height="3.36" fill="#130000"/>
<rect x="150.79" y="198.47" width="9.13" height="3.36" fill="#130000"/>
<rect x="159.62" y="198.47" width="9.13" height="3.36" fill="#220000"/>
<rect x="168.45" y="198.47" width="9.13" height="3.36" fill="#2c0000"/>
<rect x="177.28" y="198.47" width="9.13" height="3.36" fill="#2c0000"/>
<rect x="186.10" y="198.47" width="8.20" height="3.36" fill="#2c0000"/>
<rect x="43.60" y="201.53" width="10.40" height="3.36" fill="#7a0000"/>
<rect x="53.70" y="201.53" width="9.13" height="3.36" fill="#6b0000"/>
<rect x="62.52" y="201.53" width="9.13" height="3.36" fill="#620000"/>
<rect x="71.35" y="201.53" width="9.13" height="3.36" fill="#620000"/>
<rect x="80.18" y="201.53" width="9.13" height="3.36" fill="#310000"/>
<rect x="89.00" y="201.53" width="9.13" height="3.36" fill="#490000"/>
<rect x="97.83" y="201.53" width="9.13" height="3.36" fill="#490000"/>
<rect x="106.66" y="201.53" width="9.13" height="3.36" fill="#490000"/>
<rect x="115.49" y="201.53" width="9.13" height="3.36" fill="#ab0000"/>
<rect x="124.31" y="201.53" width="9.13" height="3.36" fill="#930000"/>
<rect x="133.14" y="201.53" width="9.13" height="3.36" fill="#7a0000"/>
<rect x="141.97" y="201.53" width="9.13" height="3.36" fill="#620000"/>
<rect x="150.79" y="201.53" width="9.13" height="3.36" fill="#7a0000"/>
<rect x="159.62" y="201.53" width="9.13" height="3.36" fill="#7a0000"/>
<rect x="168.45" y="201.53" width="9.13" height="3.36" fill="#7a0000"/>
<rect x="177.28" y="201.53" width="9.13" height="3.36" fill="#7a0000"/>
<rect x="186.10" y="201.53" width="8.20" height="3.36" fill="#890000"/>
<rect x="43.60" y="204.59" width="10.40" height="3.36" fill="#ba0000"/>
<rect x="53.70" y="204.59" width="9.13" height="3.36" fill="#a10000"/>
<rect x="62.52" y="204.59" width="9.13" height="3.36" fill="#930000"/>
<rect x="71.35" y="204.59" width="9.13" height="3.36" fill="#180000"/>
<rect x="80.18" y="204.59" width="9.13" height="3.36" fill="#3a0000"/>
<rect x="89.00" y="204.59" width="9.13" height="3.36" fill="#490000"/>
<rect x="97.83" y="204.59" width="9.13" height="3.36" fill="#620000"/>
<rect x="106.66" y="204.59" width="9.13" height="3.36" fill="#930000"/>
<rect x="115.49" y="204.59" width="9.13" height="3.36" fill="#dc0000"/>
<rect x="124.31" y="204.59" width="9.13" height="3.36" fill="#f51700"/>
<rect x="133.14" y="204.59" width="9.13" height="3.36" fill="#e60900"/>
<rect x="141.97" y="204.59" width="9.13" height="3.36" fill="#d70000"/>
<rect x="150.79" y="204.59" width="9.13" height="3.36" fill="#d70000"/>
<rect x="159.62" y="204.59" width="9.13" height="3.36" fill="#cd0000"/>
<rect x="168.45" y="204.59" width="9.13" height="3.36" fill="#cd0000"/>
<rect x="177.28" y="204.59" width="9.13" height="3.36" fill="#c40000"/>
<rect x="186.10" y="204.59" width="8.20" height="3.36" fill="#c40000"/>
<rect x="43.60" y="207.65" width="10.40" height="3.36" fill="#dc0000"/>
<rect x="53.70" y="207.65" width="9.13" height="3.36" fill="#cd0000"/>
<rect x="62.52" y="207.65" width="9.13" height="3.36" fill="#ab0000"/>
<rect x="71.35" y="207.65" width="9.13" height="3.36" fill="#930000"/>
<rect x="80.18" y="207.65" width="9.13" height="3.36" fill="#490000"/>
<rect x="89.00" y="207.65" width="9.13" height="3.36" fill="#7a0000"/>
<rect x="97.83" y="207.65" width="9.13" height="3.36" fill="#7a0000"/>
<rect x="106.66" y="207.65" width="9.13" height="3.36" fill="#cd0000"/>
<rect x="115.49" y="207.65" width="9.13" height="3.36" fill="#ff3c00"/>
<rect x="124.31" y="207.65" width="9.13" height="3.36" fill="#ffa200"/>
<rect x="133.14" y="207.65" width="9.13" height="3.36" fill="#ff4e00"/>
<rect x="141.97" y="207.65" width="9.13" height="3.36" fill="#ff3300"/>
<rect x="150.79" y="207.65" width="9.13" height="3.36" fill="#ff2000"/>
<rect x="159.62" y="207.65" width="9.13" height="3.36" fill="#f51700"/>
<rect x="168.45" y="207.65" width="9.13" height="3.36" fill="#f51700"/>
<rect x="177.28" y="207.65" width="9.13" height="3.36" fill="#e60900"/>
<rect x="186.10" y="207.65" width="8.20" height="3.36" fill="#e60900"/>
<rect x="43.60" y="210.71" width="10.40" height="3.36" fill="#7a0000"/>
<rect x="53.70" y="210.71" width="9.13" height="3.36" fill="#7a0000"/>
<rect x="62.52" y="210.71" width="9.13" height="3.36" fill="#890000"/>
<rect x="71.35" y="210.71" width="9.13" height="3.36" fill="#930000"/>
<rect x="80.18" y="210.71" width="9.13" height="3.36" fill="#930000"/>
<rect x="89.00" y="210.71" width="9.13" height="3.36" fill="#620000"/>
<rect x="97.83" y="210.71" width="9.13" height="3.36" fill="#620000"/>
<rect x="106.66" y="210.71" width="9.13" height="3.36" fill="#ab0000"/>
<rect x="115.49" y="210.71" width="9.13" height="3.36" fill="#dc0000"/>
<rect x="124.31" y="210.71" width="9.13" height="3.36" fill="#f51700"/>
<rect x="133.14" y="210.71" width="9.13" height="3.36" fill="#e60900"/>
<rect x="141.97" y="210.71" width="9.13" height="3.36" fill="#e60900"/>
<rect x="150.79" y="210.71" width="9.13" height="3.36" fill="#e60900"/>
<rect x="159.62" y="210.71" width="9.13" height="3.36" fill="#e60900"/>
<rect x="168.45" y="210.71" width="9.13" height="3.36" fill="#dc0000"/>
<rect x="177.28" y="210.71" width="9.13" height="3.36" fill="#cd0000"/>
<rect x="186.10" y="210.71" width="8.20" height="3.36" fill="#e60900"/>
<rect x="43.60" y="213.77" width="10.40" height="3.36" fill="#930000"/>
<rect x="53.70" y="213.77" width="9.13" height="3.36" fill="#930000"/>
<rect x="62.52" y="213.77" width="9.13" height="3.36" fill="#930000"/>
<rect x="71.35" y="213.77" width="9.13" height="3.36" fill="#ab0000"/>
<rect x="80.18" y="213.77" width="9.13" height="3.36" fill="#ba0000"/>
<rect x="89.00" y="213.77" width="9.13" height="3.36" fill="#7a0000"/>
<rect x="97.83" y="213.77" width="9.13" height="3.36" fill="#180000"/>
<rect x="106.66" y="213.77" width="9.13" height="3.36" fill="#620000"/>
<rect x="115.49" y="213.77" width="9.13" height="3.36" fill="#930000"/>
<rect x="124.31" y="213.77" width="9.13" height="3.36" fill="#620000"/>
<rect x="133.14" y="213.77" width="9.13" height="3.36" fill="#930000"/>
<rect x="141.97" y="213.77" width="9.13" height="3.36" fill="#930000"/>
<rect x="150.79" y="213.77" width="9.13" height="3.36" fill="#930000"/>
<rect x="159.62" y="213.77" width="9.13" height="3.36" fill="#930000"/>
<rect x="168.45" y="213.77" width="9.13" height="3.36" fill="#930000"/>
<rect x="177.28" y="213.77" width="9.13" height="3.36" fill="#930000"/>
<rect x="186.10" y="213.77" width="8.20" height="3.36" fill="#7a0000"/>
<rect x="43.60" y="216.83" width="10.40" height="3.36" fill="#cd0000"/>
<rect x="53.70" y="216.83" width="9.13" height="3.36" fill="#cd0000"/>
<rect x="62.52" y="216.83" width="9.13" height="3.36" fill="#cd0000"/>
<rect x="71.35" y="216.83" width="9.13" height="3.36" fill="#cd0000"/>
<rect x="80.18" y="216.83" width="9.13" height="3.36" fill="#c40000"/>
<rect x="89.00" y="216.83" width="9.13" height="3.36" fill="#ba0000"/>
<rect x="97.83" y="216.83" width="9.13" height="3.36" fill="#930000"/>
<rect x="106.66" y="216.83" width="9.13" height="3.36" fill="#620000"/>
<rect x="115.49" y="216.83" width="9.13" height="3.36" fill="#620000"/>
<rect x="124.31" y="216.83" width="9.13" height="3.36" fill="#620000"/>
<rect x="133.14" y="216.83" width="9.13" height="3.36" fill="#930000"/>
<rect x="141.97" y="216.83" width="9.13" height="3.36" fill="#dc0000"/>
<rect x="150.79" y="216.83" width="9.13" height="3.36" fill="#ba0000"/>
<rect x="159.62" y="216.83" width="9.13" height="3.36" fill="#930000"/>
<rect x="168.45" y="216.83" width="9.13" height="3.36" fill="#930000"/>
<rect x="177.28" y="216.83" width="9.13" height="3.36" fill="#7a0000"/>
<rect x="186.10" y="216.83" width="8.20" height="3.36" fill="#490000"/>
<rect x="43.60" y="219.89" width="10.40" height="3.36" fill="#cd0000"/>
<rect x="53.70" y="219.89" width="9.13" height="3.36" fill="#cd0000"/>
<rect x="62.52" y="219.89" width="9.13" height="3.36" fill="#dc0000"/>
<rect x="71.35" y="219.89" width="9.13" height="3.36" fill="#ff2000"/>
<rect x="80.18" y="219.89" width="9.13" height="3.36" fill="#ff2000"/>
<rect x="89.00" y="219.89" width="9.13" height="3.36" fill="#f51700"/>
<rect x="97.83" y="219.89" width="9.13" height="3.36" fill="#dc0000"/>
<rect x="106.66" y="219.89" width="9.13" height="3.36" fill="#930000"/>
<rect x="115.49" y="219.89" width="9.13" height="3.36" fill="#490000"/>
<rect x="124.31" y="219.89" width="9.13" height="3.36" fill="#490000"/>
<rect x="133.14" y="219.89" width="9.13" height="3.36" fill="#7a0000"/>
<rect x="141.97" y="219.89" width="9.13" height="3.36" fill="#930000"/>
<rect x="150.79" y="219.89" width="9.13" height="3.36" fill="#ba0000"/>
<rect x="159.62" y="219.89" width="9.13" height="3.36" fill="#c40000"/>
<rect x="168.45" y="219.89" width="9.13" height="3.36" fill="#c40000"/>
<rect x="177.28" y="219.89" width="9.13" height="3.36" fill="#ba0000"/>
<rect x="186.10" y="219.89" width="8.20" height="3.36" fill="#dc0000"/>
<rect x="43.60" y="222.95" width="10.40" height="3.36" fill="#c40000"/>
<rect x="53.70" y="222.95" width="9.13" height="3.36" fill="#c40000"/>
<rect x="62.52" y="222.95" width="9.13" height="3.36" fill="#cd0000"/>
<rect x="71.35" y="222.95" width="9.13" height="3.36" fill="#f51700"/>
<rect x="80.18" y="222.95" width="9.13" height="3.36" fill="#ff2000"/>
<rect x="89.00" y="222.95" width="9.13" height="3.36" fill="#ff9900"/>
<rect x="97.83" y="222.95" width="9.13" height="3.36" fill="#ff2000"/>
<rect x="106.66" y="222.95" width="9.13" height="3.36" fill="#dc0000"/>
<rect x="115.49" y="222.95" width="9.13" height="3.36" fill="#620000"/>
<rect x="124.31" y="222.95" width="9.13" height="3.36" fill="#7a0000"/>
<rect x="133.14" y="222.95" width="9.13" height="3.36" fill="#7a0000"/>
<rect x="141.97" y="222.95" width="9.13" height="3.36" fill="#930000"/>
<rect x="150.79" y="222.95" width="9.13" height="3.36" fill="#930000"/>
<rect x="159.62" y="222.95" width="9.13" height="3.36" fill="#ab0000"/>
<rect x="168.45" y="222.95" width="9.13" height="3.36" fill="#ab0000"/>
<rect x="177.28" y="222.95" width="9.13" height="3.36" fill="#ba0000"/>
<rect x="186.10" y="222.95" width="8.20" height="3.36" fill="#eb0d00"/>
<rect x="43.60" y="226.01" width="10.40" height="3.36" fill="#580000"/>
<rect x="53.70" y="226.01" width="9.13" height="3.36" fill="#6b0000"/>
<rect x="62.52" y="226.01" width="9.13" height="3.36" fill="#620000"/>
<rect x="71.35" y="226.01" width="9.13" height="3.36" fill="#ab0000"/>
<rect x="80.18" y="226.01" width="9.13" height="3.36" fill="#eb0d00"/>
<rect x="89.00" y="226.01" width="9.13" height="3.36" fill="#cd0000"/>
<rect x="97.83" y="226.01" width="9.13" height="3.36" fill="#ab0000"/>
<rect x="106.66" y="226.01" width="9.13" height="3.36" fill="#930000"/>
<rect x="115.49" y="226.01" width="9.13" height="3.36" fill="#490000"/>
<rect x="124.31" y="226.01" width="9.13" height="3.36" fill="#620000"/>
<rect x="133.14" y="226.01" width="9.13" height="3.36" fill="#620000"/>
<rect x="141.97" y="226.01" width="9.13" height="3.36" fill="#7a0000"/>
<rect x="150.79" y="226.01" width="9.13" height="3.36" fill="#890000"/>
<rect x="159.62" y="226.01" width="9.13" height="3.36" fill="#7a0000"/>
<rect x="168.45" y="226.01" width="9.13" height="3.36" fill="#7a0000"/>
<rect x="177.28" y="226.01" width="9.13" height="3.36" fill="#7a0000"/>
<rect x="186.10" y="226.01" width="8.20" height="3.36" fill="#930000"/>
<rect x="43.60" y="229.07" width="10.40" height="3.36" fill="#490000"/>
<rect x="53.70" y="229.07" width="9.13" height="3.36" fill="#620000"/>
<rect x="62.52" y="229.07" width="9.13" height="3.36" fill="#3a0000"/>
<rect x="71.35" y="229.07" width="9.13" height="3.36" fill="#620000"/>
<rect x="80.18" y="229.07" width="9.13" height="3.36" fill="#620000"/>
<rect x="89.00" y="229.07" width="9.13" height="3.36" fill="#620000"/>
<rect x="97.83" y="229.07" width="9.13" height="3.36" fill="#490000"/>
<rect x="106.66" y="229.07" width="9.13" height="3.36" fill="#620000"/>
<rect x="115.49" y="229.07" width="9.13" height="3.36" fill="#490000"/>
<rect x="124.31" y="229.07" width="9.13" height="3.36" fill="#310000"/>
<rect x="133.14" y="229.07" width="9.13" height="3.36" fill="#490000"/>
<rect x="141.97" y="229.07" width="9.13" height="3.36" fill="#310000"/>
<rect x="150.79" y="229.07" width="9.13" height="3.36" fill="#490000"/>
<rect x="159.62" y="229.07" width="9.13" height="3.36" fill="#490000"/>
<rect x="168.45" y="229.07" width="9.13" height="3.36" fill="#490000"/>
<rect x="177.28" y="229.07" width="9.13" height="3.36" fill="#490000"/>
<rect x="186.10" y="229.07" width="8.20" height="3.36" fill="#490000"/>
<rect x="43.60" y="232.13" width="10.40" height="3.36" fill="#3a0000"/>
<rect x="53.70" y="232.13" width="9.13" height="3.36" fill="#310000"/>
<rect x="62.52" y="232.13" width="9.13" height="3.36" fill="#270000"/>
<rect x="71.35" y="232.13" width="9.13" height="3.36" fill="#490000"/>
<rect x="80.18" y="232.13" width="9.13" height="3.36" fill="#310000"/>
<rect x="89.00" y="232.13" width="9.13" height="3.36" fill="#490000"/>
<rect x="97.83" y="232.13" width="9.13" height="3.36" fill="#310000"/>
<rect x="106.66" y="232.13" width="9.13" height="3.36" fill="#310000"/>
<rect x="115.49" y="232.13" width="9.13" height="3.36" fill="#310000"/>
<rect x="124.31" y="232.13" width="9.13" height="3.36" fill="#310000"/>
<rect x="133.14" y="232.13" width="9.13" height="3.36" fill="#310000"/>
<rect x="141.97" y="232.13" width="9.13" height="3.36" fill="#310000"/>
<rect x="150.79" y="232.13" width="9.13" height="3.36" fill="#310000"/>
<rect x="159.62" y="232.13" width="9.13" height="3.36" fill="#310000"/>
<rect x="168.45" y="232.13" width="9.13" height="3.36" fill="#310000"/>
<rect x="177.28" y="232.13" width="9.13" height="3.36" fill="#310000"/>
<rect x="186.10" y="232.13" width="8.20" height="3.36" fill="#310000"/>
<rect x="43.60" y="235.19" width="10.40" height="3.36" fill="#410000"/>
<rect x="53.70" y="235.19" width="9.13" height="3.36" fill="#3f0000"/>
<rect x="62.52" y="235.19" width="9.13" height="3.36" fill="#1b0000"/>
<rect x="71.35" y="235.19" width="9.13" height="3.36" fill="#420000"/>
<rect x="80.18" y="235.19" width="9.13" height="3.36" fill="#2c0000"/>
<rect x="89.00" y="235.19" width="9.13" height="3.36" fill="#480000"/>
<rect x="97.83" y="235.19" width="9.13" height="3.36" fill="#210000"/>
<rect x="106.66" y="235.19" width="9.13" height="3.36" fill="#2c0000"/>
<rect x="115.49" y="235.19" width="9.13" height="3.36" fill="#1e0000"/>
<rect x="124.31" y="235.19" width="9.13" height="3.36" fill="#190000"/>
<rect x="133.14" y="235.19" width="9.13" height="3.36" fill="#2b0000"/>
<rect x="141.97" y="235.19" width="9.13" height="3.36" fill="#410000"/>
<rect x="150.79" y="235.19" width="9.13" height="3.36" fill="#310000"/>
<rect x="159.62" y="235.19" width="9.13" height="3.36" fill="#2a0000"/>
<rect x="168.45" y="235.19" width="9.13" height="3.36" fill="#4f0000"/>
<rect x="177.28" y="235.19" width="9.13" height="3.36" fill="#430000"/>
<rect x="186.10" y="235.19" width="8.20" height="3.36" fill="#510000"/>
<rect x="43.60" y="238.25" width="10.40" height="3.36" fill="#2a0000"/>
<rect x="53.70" y="238.25" width="9.13" height="3.36" fill="#230000"/>
<rect x="62.52" y="238.25" width="9.13" height="3.36" fill="#510000"/>
<rect x="71.35" y="238.25" width="9.13" height="3.36" fill="#1d0000"/>
<rect x="80.18" y="238.25" width="9.13" height="3.36" fill="#460000"/>
<rect x="89.00" y="238.25" width="9.13" height="3.36" fill="#500000"/>
<rect x="97.83" y="238.25" width="9.13" height="3.36" fill="#420000"/>
<rect x="106.66" y="238.25" width="9.13" height="3.36" fill="#3a0000"/>
<rect x="115.49" y="238.25" width="9.13" height="3.36" fill="#2e0000"/>
<rect x="124.31" y="238.25" width="9.13" height="3.36" fill="#290000"/>
<rect x="133.14" y="238.25" width="9.13" height="3.36" fill="#1c0000"/>
<rect x="141.97" y="238.25" width="9.13" height="3.36" fill="#2e0000"/>
<rect x="150.79" y="238.25" width="9.13" height="3.36" fill="#360000"/>
<rect x="159.62" y="238.25" width="9.13" height="3.36" fill="#270000"/>
<rect x="168.45" y="238.25" width="9.13" height="3.36" fill="#510000"/>
<rect x="177.28" y="238.25" width="9.13" height="3.36" fill="#530000"/>
<rect x="186.10" y="238.25" width="8.20" height="3.36" fill="#290000"/>
<rect x="43.60" y="241.31" width="10.40" height="3.36" fill="#3b0000"/>
<rect x="53.70" y="241.31" width="9.13" height="3.36" fill="#4c0000"/>
<rect x="62.52" y="241.31" width="9.13" height="3.36" fill="#3a0000"/>
<rect x="71.35" y="241.31" width="9.13" height="3.36" fill="#2d0000"/>
<rect x="80.18" y="241.31" width="9.13" height="3.36" fill="#4a0000"/>
<rect x="89.00" y="241.31" width="9.13" height="3.36" fill="#370000"/>
<rect x="97.83" y="241.31" width="9.13" height="3.36" fill="#3c0000"/>
<rect x="106.66" y="241.31" width="9.13" height="3.36" fill="#450000"/>
<rect x="115.49" y="241.31" width="9.13" height="3.36" fill="#290000"/>
<rect x="124.31" y="241.31" width="9.13" height="3.36" fill="#400000"/>
<rect x="133.14" y="241.31" width="9.13" height="3.36" fill="#280000"/>
<rect x="141.97" y="241.31" width="9.13" height="3.36" fill="#3e0000"/>
<rect x="150.79" y="241.31" width="9.13" height="3.36" fill="#270000"/>
<rect x="159.62" y="241.31" width="9.13" height="3.36" fill="#470000"/>
<rect x="168.45" y="241.31" width="9.13" height="3.36" fill="#2c0000"/>
<rect x="177.28" y="241.31" width="9.13" height="3.36" fill="#510000"/>
<rect x="186.10" y="241.31" width="8.20" height="3.36" fill="#220000"/>
<rect x="43.60" y="244.37" width="10.40" height="3.36" fill="#420000"/>
<rect x="53.70" y="244.37" width="9.13" height="3.36" fill="#4a0000"/>
<rect x="62.52" y="244.37" width="9.13" height="3.36" fill="#4b0000"/>
<rect x="71.35" y="244.37" width="9.13" height="3.36" fill="#370000"/>
<rect x="80.18" y="244.37" width="9.13" height="3.36" fill="#380000"/>
<rect x="89.00" y="244.37" width="9.13" height="3.36" fill="#290000"/>
<rect x="97.83" y="244.37" width="9.13" height="3.36" fill="#4a0000"/>
<rect x="106.66" y="244.37" width="9.13" height="3.36" fill="#450000"/>
<rect x="115.49" y="244.37" width="9.13" height="3.36" fill="#360000"/>
<rect x="124.31" y="244.37" width="9.13" height="3.36" fill="#360000"/>
<rect x="133.14" y="244.37" width="9.13" height="3.36" fill="#4e0000"/>
<rect x="141.97" y="244.37" width="9.13" height="3.36" fill="#390000"/>
<rect x="150.79" y="244.37" width="9.13" height="3.36" fill="#1e0000"/>
<rect x="159.62" y="244.37" width="9.13" height="3.36" fill="#1e0000"/>
<rect x="168.45" y="244.37" width="9.13" height="3.36" fill="#450000"/>
<rect x="177.28" y="244.37" width="9.13" height="3.36" fill="#370000"/>
<rect x="186.10" y="244.37" width="8.20" height="3.36" fill="#390000"/>
<rect x="43.60" y="247.43" width="10.40" height="3.36" fill="#310000"/>
<rect x="53.70" y="247.43" width="9.13" height="3.36" fill="#190000"/>
<rect x="62.52" y="247.43" width="9.13" height="3.36" fill="#470000"/>
<rect x="71.35" y="247.43" width="9.13" height="3.36" fill="#2e0000"/>
<rect x="80.18" y="247.43" width="9.13" height="3.36" fill="#330000"/>
<rect x="89.00" y="247.43" width="9.13" height="3.36" fill="#320000"/>
<rect x="97.83" y="247.43" width="9.13" height="3.36" fill="#200000"/>
<rect x="106.66" y="247.43" width="9.13" height="3.36" fill="#510000"/>
<rect x="115.49" y="247.43" width="9.13" height="3.36" fill="#500000"/>
<rect x="124.31" y="247.43" width="9.13" height="3.36" fill="#190000"/>
<rect x="133.14" y="247.43" width="9.13" height="3.36" fill="#1b0000"/>
<rect x="141.97" y="247.43" width="9.13" height="3.36" fill="#2f0000"/>
<rect x="150.79" y="247.43" width="9.13" height="3.36" fill="#520000"/>
<rect x="159.62" y="247.43" width="9.13" height="3.36" fill="#340000"/>
<rect x="168.45" y="247.43" width="9.13" height="3.36" fill="#4e0000"/>
<rect x="177.28" y="247.43" width="9.13" height="3.36" fill="#2c0000"/>
<rect x="186.10" y="247.43" width="8.20" height="3.36" fill="#350000"/>
<rect x="43.60" y="250.49" width="10.40" height="3.36" fill="#200000"/>
<rect x="53.70" y="250.49" width="9.13" height="3.36" fill="#280000"/>
<rect x="62.52" y="250.49" width="9.13" height="3.36" fill="#0c0000"/>
<rect x="71.35" y="250.49" width="9.13" height="3.36" fill="#1b0000"/>
<rect x="80.18" y="250.49" width="9.13" height="3.36" fill="#1f0000"/>
<rect x="89.00" y="250.49" width="9.13" height="3.36" fill="#1d0000"/>
<rect x="97.83" y="250.49" width="9.13" height="3.36" fill="#120000"/>
<rect x="106.66" y="250.49" width="9.13" height="3.36" fill="#250000"/>
<rect x="115.49" y="250.49" width="9.13" height="3.36" fill="#110000"/>
<rect x="124.31" y="250.49" width="9.13" height="3.36" fill="#240000"/>
<rect x="133.14" y="250.49" width="9.13" height="3.36" fill="#180000"/>
<rect x="141.97" y="250.49" width="9.13" height="3.36" fill="#0e0000"/>
<rect x="150.79" y="250.49" width="9.13" height="3.36" fill="#240000"/>
<rect x="159.62" y="250.49" width="9.13" height="3.36" fill="#0c0000"/>
<rect x="168.45" y="250.49" width="9.13" height="3.36" fill="#230000"/>
<rect x="177.28" y="250.49" width="9.13" height="3.36" fill="#1c0000"/>
<rect x="186.10" y="250.49" width="8.20" height="3.36" fill="#250000"/>
<rect x="43.60" y="253.55" width="10.40" height="3.36" fill="#230000"/>
<rect x="53.70" y="253.55" width="9.13" height="3.36" fill="#160000"/>
<rect x="62.52" y="253.55" width="9.13" height="3.36" fill="#0e0000"/>
<rect x="71.35" y="253.55" width="9.13" height="3.36" fill="#120000"/>
<rect x="80.18" y="253.55" width="9.13" height="3.36" fill="#090000"/>
<rect x="89.00" y="253.55" width="9.13" height="3.36" fill="#1e0000"/>
<rect x="97.83" y="253.55" width="9.13" height="3.36" fill="#0c0000"/>
<rect x="106.66" y="253.55" width="9.13" height="3.36" fill="#0f0000"/>
<rect x="115.49" y="253.55" width="9.13" height="3.36" fill="#110000"/>
<rect x="124.31" y="253.55" width="9.13" height="3.36" fill="#160000"/>
<rect x="133.14" y="253.55" width="9.13" height="3.36" fill="#1f0000"/>
<rect x="141.97" y="253.55" width="9.13" height="3.36" fill="#170000"/>
<rect x="150.79" y="253.55" width="9.13" height="3.36" fill="#190000"/>
<rect x="159.62" y="253.55" width="9.13" height="3.36" fill="#0c0000"/>
<rect x="168.45" y="253.55" width="9.13" height="3.36" fill="#140000"/>
<rect x="177.28" y="253.55" width="9.13" height="3.36" fill="#100000"/>
<rect x="186.10" y="253.55" width="8.20" height="3.36" fill="#210000"/>
<rect x="43.60" y="256.61" width="10.40" height="3.36" fill="#0a0000"/>
<rect x="53.70" y="256.61" width="9.13" height="3.36" fill="#1d0000"/>
<rect x="62.52" y="256.61" width="9.13" height="3.36" fill="#200000"/>
<rect x="71.35" y="256.61" width="9.13" height="3.36" fill="#190000"/>
<rect x="80.18" y="256.61" width="9.13" height="3.36" fill="#0b0000"/>
<rect x="89.00" y="256.61" width="9.13" height="3.36" fill="#110000"/>
<rect x="97.83" y="256.61" width="9.13" height="3.36" fill="#110000"/>
<rect x="106.66" y="256.61" width="9.13" height="3.36" fill="#120000"/>
<rect x="115.49" y="256.61" width="9.13" height="3.36" fill="#120000"/>
<rect x="124.31" y="256.61" width="9.13" height="3.36" fill="#280000"/>
<rect x="133.14" y="256.61" width="9.13" height="3.36" fill="#230000"/>
<rect x="141.97" y="256.61" width="9.13" height="3.36" fill="#260000"/>
<rect x="150.79" y="256.61" width="9.13" height="3.36" fill="#200000"/>
<rect x="159.62" y="256.61" width="9.13" height="3.36" fill="#140000"/>
<rect x="168.45" y="256.61" width="9.13" height="3.36" fill="#270000"/>
<rect x="177.28" y="256.61" width="9.13" height="3.36" fill="#190000"/>
<rect x="186.10" y="256.61" width="8.20" height="3.36" fill="#0f0000"/>
<rect x="43.60" y="259.67" width="10.40" height="3.36" fill="#210000"/>
<rect x="53.70" y="259.67" width="9.13" height="3.36" fill="#120000"/>
<rect x="62.52" y="259.67" width="9.13" height="3.36" fill="#240000"/>
<rect x="71.35" y="259.67" width="9.13" height="3.36" fill="#210000"/>
<rect x="80.18" y="259.67" width="9.13" height="3.36" fill="#130000"/>
<rect x="89.00" y="259.67" width="9.13" height="3.36" fill="#180000"/>
<rect x="97.83" y="259.67" width="9.13" height="3.36" fill="#200000"/>
<rect x="106.66" y="259.67" width="9.13" height="3.36" fill="#1f0000"/>
<rect x="115.49" y="259.67" width="9.13" height="3.36" fill="#1a0000"/>
<rect x="124.31" y="259.67" width="9.13" height="3.36" fill="#100000"/>
<rect x="133.14" y="259.67" width="9.13" height="3.36" fill="#140000"/>
<rect x="141.97" y="259.67" width="9.13" height="3.36" fill="#1f0000"/>
<rect x="150.79" y="259.67" width="9.13" height="3.36" fill="#180000"/>
<rect x="159.62" y="259.67" width="9.13" height="3.36" fill="#200000"/>
<rect x="168.45" y="259.67" width="9.13" height="3.36" fill="#1f0000"/>
<rect x="177.28" y="259.67" width="9.13" height="3.36" fill="#150000"/>
<rect x="186.10" y="259.67" width="8.20" height="3.36" fill="#0c0000"/>
<rect x="43.60" y="262.73" width="10.40" height="3.36" fill="#1f0000"/>
<rect x="53.70" y="262.73" width="9.13" height="3.36" fill="#150000"/>
<rect x="62.52" y="262.73" width="9.13" height="3.36" fill="#1b0000"/>
<rect x="71.35" y="262.73" width="9.13" height="3.36" fill="#0d0000"/>
<rect x="80.18" y="262.73" width="9.13" height="3.36" fill="#0e0000"/>
<rect x="89.00" y="262.73" width="9.13" height="3.36" fill="#170000"/>
<rect x="97.83" y="262.73" width="9.13" height="3.36" fill="#1f0000"/>
<rect x="106.66" y="262.73" width="9.13" height="3.36" fill="#0d0000"/>
<rect x="115.49" y="262.73" width="9.13" height="3.36" fill="#220000"/>
<rect x="124.31" y="262.73" width="9.13" height="3.36" fill="#240000"/>
<rect x="133.14" y="262.73" width="9.13" height="3.36" fill="#1f0000"/>
<rect x="141.97" y="262.73" width="9.13" height="3.36" fill="#210000"/>
<rect x="150.79" y="262.73" width="9.13" height="3.36" fill="#110000"/>
<rect x="159.62" y="262.73" width="9.13" height="3.36" fill="#0d0000"/>
<rect x="168.45" y="262.73" width="9.13" height="3.36" fill="#140000"/>
<rect x="177.28" y="262.73" width="9.13" height="3.36" fill="#0d0000"/>
<rect x="186.10" y="262.73" width="8.20" height="3.36" fill="#170000"/>
<rect x="43.60" y="265.79" width="10.40" height="1.11" fill="#220000"/>
<rect x="53.70" y="265.79" width="9.13" height="1.11" fill="#120000"/>
<rect x="62.52" y="265.79" width="9.13" height="1.11" fill="#250000"/>
<rect x="71.35" y="265.79" width="9.13" height="1.11" fill="#180000"/>
<rect x="80.18" y="265.79" width="9.13" height="1.11" fill="#0e0000"/>
<rect x="89.00" y="265.79" width="9.13" height="1.11" fill="#1e0000"/>
<rect x="97.83" y="265.79" width="9.13" height="1.11" fill="#170000"/>
<rect x="106.66" y="265.79" width="9.13" height="1.11" fill="#140000"/>
<rect x="115.49" y="265.79" width="9.13" height="1.11" fill="#1a0000"/>
<rect x="124.31" y="265.79" width="9.13" height="1.11" fill="#290000"/>
<rect x="133.14" y="265.79" width="9.13" height="1.11" fill="#210000"/>
<rect x="141.97" y="265.79" width="9.13" height="1.11" fill="#130000"/>
<rect x="150.79" y="265.79" width="9.13" height="1.11" fill="#270000"/>
<rect x="159.62" y="265.79" width="9.13" height="1.11" fill="#0f0000"/>
<rect x="168.45" y="265.79" width="9.13" height="1.11" fill="#160000"/>
<rect x="177.28" y="265.79" width="9.13" height="1.11" fill="#150000"/>
<rect x="186.10" y="265.79" width="8.20" height="1.11" fill="#290000"/>
</g>
<rect x="43.6" y="150.8" width="150.4" height="115.80000000000001" fill="none" stroke="#000" stroke-width="1.35"/>
<line x1="87.20" y1="234.00" x2="87.20" y2="247.60" stroke="#fff" stroke-width="1.3" />
<path d="M87.2,229.8 L84.7,235 L89.7,235 Z" fill="#fff"/>
<line x1="130.90" y1="234.00" x2="130.90" y2="247.60" stroke="#fff" stroke-width="1.3" />
<path d="M130.9,229.8 L128.4,235 L133.4,235 Z" fill="#fff"/>
<line x1="36.20" y1="166.40" x2="43.60" y2="166.40" stroke="#000" stroke-width="1.1" />
<text x="31.60" y="170.20" font-size="9.5" text-anchor="end" fill="#000" font-weight="normal" font-style="normal" font-family='"Liberation Sans", sans-serif' stroke="#000" stroke-width="0.3" >2</text>
<line x1="36.20" y1="190.90" x2="43.60" y2="190.90" stroke="#000" stroke-width="1.1" />
<text x="31.60" y="194.70" font-size="9.5" text-anchor="end" fill="#000" font-weight="normal" font-style="normal" font-family='"Liberation Sans", sans-serif' stroke="#000" stroke-width="0.3" >1</text>
<line x1="36.20" y1="215.40" x2="43.60" y2="215.40" stroke="#000" stroke-width="1.1" />
<text x="31.60" y="219.20" font-size="9.5" text-anchor="end" fill="#000" font-weight="normal" font-style="normal" font-family='"Liberation Sans", sans-serif' stroke="#000" stroke-width="0.3" >0</text>
<line x1="36.20" y1="239.90" x2="43.60" y2="239.90" stroke="#000" stroke-width="1.1" />
<text x="31.60" y="243.70" font-size="9.5" text-anchor="end" fill="#000" font-weight="normal" font-style="normal" font-family='"Liberation Sans", sans-serif' stroke="#000" stroke-width="0.3" >-1</text>
<line x1="36.20" y1="264.40" x2="43.60" y2="264.40" stroke="#000" stroke-width="1.1" />
<text x="31.60" y="268.20" font-size="9.5" text-anchor="end" fill="#000" font-weight="normal" font-style="normal" font-family='"Liberation Sans", sans-serif' stroke="#000" stroke-width="0.3" >-2</text>
<line x1="75.10" y1="266.60" x2="75.10" y2="272.20" stroke="#000" stroke-width="1.1" />
<text x="75.10" y="282.60" font-size="9.5" text-anchor="middle" fill="#000" font-weight="normal" font-style="normal" font-family='"Liberation Sans", sans-serif' stroke="#000" stroke-width="0.3" >-0.5</text>
<line x1="110.70" y1="266.60" x2="110.70" y2="272.20" stroke="#000" stroke-width="1.1" />
<text x="110.70" y="282.60" font-size="9.5" text-anchor="middle" fill="#000" font-weight="normal" font-style="normal" font-family='"Liberation Sans", sans-serif' stroke="#000" stroke-width="0.3" >0</text>
<line x1="146.30" y1="266.60" x2="146.30" y2="272.20" stroke="#000" stroke-width="1.1" />
<text x="146.30" y="282.60" font-size="9.5" text-anchor="middle" fill="#000" font-weight="normal" font-style="normal" font-family='"Liberation Sans", sans-serif' stroke="#000" stroke-width="0.3" >0.5</text>
<line x1="181.90" y1="266.60" x2="181.90" y2="272.20" stroke="#000" stroke-width="1.1" />
<text x="181.90" y="282.60" font-size="9.5" text-anchor="middle" fill="#000" font-weight="normal" font-style="normal" font-family='"Liberation Sans", sans-serif' stroke="#000" stroke-width="0.3" >1</text>
<text x="117.80" y="296.40" font-size="9.5" text-anchor="middle" fill="#000" font-weight="normal" font-style="normal" font-family='"Liberation Sans", sans-serif' stroke="#000" stroke-width="0.3" ><tspan font-style="italic">Δ</tspan> (MHz)</text>
<text x="14.70" y="209.70" font-size="9.5" text-anchor="middle" fill="#000" font-weight="normal" font-style="normal" font-family='"Liberation Sans", sans-serif' stroke="#000" stroke-width="0.3" transform="rotate(-90 14.7 209.7)">Frequency (MHz)</text>
<path d="M44.30,346.61 L44.48,348.29 L44.67,349.62 L44.85,350.58 L45.04,351.13 L45.22,351.28 L45.41,351.01 L45.59,350.34 L45.77,349.29 L45.96,347.88 L46.14,346.16 L46.33,344.18 L46.51,341.98 L46.70,339.63 L46.88,337.18 L47.06,334.71 L47.25,332.28 L47.43,329.95 L47.62,327.78 L47.80,325.83 L47.98,324.14 L48.17,322.77 L48.35,321.73 L48.54,321.07 L48.72,320.79 L48.91,320.91 L49.09,321.40 L49.27,322.27 L49.46,323.48 L49.64,325.00 L49.83,326.80 L50.01,328.82 L50.20,331.00 L50.38,333.30 L50.56,335.65 L50.75,337.99 L50.93,340.26 L51.12,342.40 L51.30,344.36 L51.49,346.09 L51.67,347.54 L51.85,348.67 L52.04,349.47 L52.22,349.91 L52.41,349.99 L52.59,349.70 L52.78,349.05 L52.96,348.06 L53.14,346.77 L53.33,345.21 L53.51,343.41 L53.70,341.43 L53.88,339.32 L54.07,337.14 L54.25,334.95 L54.43,332.79 L54.62,330.73 L54.80,328.83 L54.99,327.12 L55.17,325.66 L55.35,324.48 L55.54,323.60 L55.72,323.06 L55.91,322.86 L56.09,323.01 L56.28,323.50 L56.46,324.31 L56.64,325.43 L56.83,326.82 L57.01,328.44 L57.20,330.26 L57.38,332.22 L57.57,334.27 L57.75,336.36 L57.93,338.43 L58.12,340.43 L58.30,342.31 L58.49,344.03 L58.67,345.53 L58.86,346.78 L59.04,347.74 L59.22,348.41 L59.41,348.75 L59.59,348.77 L59.78,348.46 L59.96,347.84 L60.15,346.93 L60.33,345.74 L60.51,344.31 L60.70,342.69 L60.88,340.91 L61.07,339.02 L61.25,337.08 L61.44,335.12 L61.62,333.22 L61.80,331.40 L61.99,329.73 L62.17,328.24 L62.36,326.97 L62.54,325.96 L62.72,325.22 L62.91,324.78 L63.09,324.65 L63.28,324.82 L63.46,325.29 L63.65,326.05 L63.83,327.08 L64.01,328.35 L64.20,329.82 L64.38,331.45 L64.57,333.21 L64.75,335.04 L64.94,336.89 L65.12,338.73 L65.30,340.50 L65.49,342.15 L65.67,343.64 L65.86,344.95 L66.04,346.02 L66.23,346.84 L66.41,347.39 L66.59,347.66 L66.78,347.63 L66.96,347.32 L67.15,346.72 L67.33,345.87 L67.52,344.78 L67.70,343.49 L67.88,342.02 L68.07,340.42 L68.25,338.73 L68.44,337.00 L68.62,335.26 L68.81,333.58 L68.99,331.98 L69.17,330.51 L69.36,329.21 L69.54,328.11 L69.73,327.24 L69.91,326.63 L70.09,326.27 L70.28,326.19 L70.46,326.38 L70.65,326.84 L70.83,327.55 L71.02,328.49 L71.20,329.65 L71.38,330.97 L71.57,332.44 L71.75,334.01 L71.94,335.65 L72.12,337.29 L72.31,338.92 L72.49,340.48 L72.67,341.93 L72.86,343.23 L73.04,344.36 L73.23,345.29 L73.41,345.98 L73.60,346.43 L73.78,346.63 L73.96,346.57 L74.15,346.25 L74.33,345.69 L74.52,344.90 L74.70,343.90 L74.89,342.73 L75.07,341.40 L75.25,339.97 L75.44,338.46 L75.62,336.91 L75.81,335.37 L75.99,333.88 L76.18,332.47 L76.36,331.19 L76.54,330.06 L76.73,329.11 L76.91,328.36 L77.10,327.85 L77.28,327.56 L77.47,327.53 L77.65,327.73 L77.83,328.17 L78.02,328.83 L78.20,329.70 L78.39,330.74 L78.57,331.94 L78.75,333.26 L78.94,334.67 L79.12,336.12 L79.31,337.59 L79.49,339.02 L79.68,340.40 L79.86,341.67 L80.04,342.81 L80.23,343.79 L80.41,344.58 L80.60,345.17 L80.78,345.53 L80.97,345.68 L81.15,345.59 L81.33,345.27 L81.52,344.74 L81.70,344.01 L81.89,343.10 L82.07,342.04 L82.26,340.84 L82.44,339.55 L82.62,338.20 L82.81,336.83 L82.99,335.46 L83.18,334.14 L83.36,332.91 L83.55,331.78 L83.73,330.79 L83.91,329.97 L84.10,329.34 L84.28,328.91 L84.47,328.69 L84.65,328.68 L84.84,328.89 L85.02,329.31 L85.20,329.93 L85.39,330.72 L85.57,331.67 L85.76,332.75 L85.94,333.94 L86.12,335.20 L86.31,336.49 L86.49,337.79 L86.68,339.06 L86.86,340.27 L87.05,341.38 L87.23,342.38 L87.41,343.22 L87.60,343.90 L87.78,344.40 L87.97,344.70 L88.15,344.79 L88.34,344.68 L88.52,344.38 L88.70,343.88 L88.89,343.20 L89.07,342.37 L89.26,341.41 L89.44,340.33 L89.63,339.17 L89.81,337.97 L89.99,336.74 L90.18,335.53 L90.36,334.37 L90.55,333.28 L90.73,332.30 L90.92,331.44 L91.10,330.73 L91.28,330.19 L91.47,329.83 L91.65,329.66 L91.84,329.69 L92.02,329.90 L92.20,330.30 L92.39,330.87 L92.57,331.59 L92.76,332.46 L92.94,333.43 L93.13,334.50 L93.31,335.62 L93.49,336.77 L93.68,337.93 L93.86,339.05 L94.05,340.11 L94.23,341.09 L94.42,341.95 L94.60,342.68 L94.78,343.26 L94.97,343.68 L95.15,343.92 L95.34,343.98 L95.52,343.86 L95.71,343.56 L95.89,343.09 L96.07,342.47 L96.26,341.71 L96.44,340.84 L96.63,339.87 L96.81,338.83 L97.00,337.75 L97.18,336.67 L97.36,335.59 L97.55,334.57 L97.73,333.61 L97.92,332.75 L98.10,332.00 L98.29,331.39 L98.47,330.94 L98.65,330.64 L98.84,330.51 L99.02,330.56 L99.21,330.77 L99.39,331.15 L99.58,331.67 L99.76,332.34 L99.94,333.12 L100.13,334.00 L100.31,334.95 L100.50,335.96 L100.68,336.98 L100.86,338.00 L101.05,338.99 L101.23,339.93 L101.42,340.78 L101.60,341.54 L101.79,342.17 L101.97,342.66 L102.15,343.01 L102.34,343.20 L102.52,343.23 L102.71,343.10 L102.89,342.81 L103.08,342.37 L103.26,341.80 L103.44,341.11 L103.63,340.32 L103.81,339.45 L104.00,338.52 L104.18,337.56 L104.37,336.59 L104.55,335.64 L104.73,334.74 L104.92,333.90 L105.10,333.14 L105.29,332.50 L105.47,331.97 L105.66,331.59 L105.84,331.35 L106.02,331.25 L106.21,331.31 L106.39,331.52 L106.58,331.88 L106.76,332.36 L106.94,332.97 L107.13,333.67 L107.31,334.47 L107.50,335.32 L107.68,336.22 L107.87,337.13 L108.05,338.04 L108.23,338.91 L108.42,339.73 L108.60,340.48 L108.79,341.13 L108.97,341.68 L109.16,342.10 L109.34,342.39 L109.52,342.54 L109.71,342.54 L109.89,342.40 L110.08,342.13 L110.26,341.72 L110.45,341.20 L110.63,340.57 L110.81,339.85 L111.00,339.07 L111.18,338.24 L111.37,337.38 L111.55,336.52 L111.74,335.68 L111.92,334.89 L112.10,334.15 L112.29,333.49 L112.47,332.93 L112.66,332.48 L112.84,332.16 L113.03,331.96 L113.21,331.90 L113.39,331.97 L113.58,332.17 L113.76,332.50 L113.95,332.95 L114.13,333.50 L114.31,334.14 L114.50,334.86 L114.68,335.62 L114.87,336.42 L115.05,337.23 L115.24,338.03 L115.42,338.81 L115.60,339.53 L115.79,340.18 L115.97,340.75 L116.16,341.22 L116.34,341.58 L116.53,341.81 L116.71,341.93 L116.89,341.91 L117.08,341.77 L117.26,341.51 L117.45,341.13 L117.63,340.65 L117.82,340.08 L118.00,339.44 L118.18,338.73 L118.37,337.99 L118.55,337.22 L118.74,336.46 L118.92,335.72 L119.11,335.01 L119.29,334.37 L119.47,333.80 L119.66,333.31 L119.84,332.93 L120.03,332.65 L120.21,332.49 L120.40,332.45 L120.58,332.53 L120.76,332.73 L120.95,333.04 L121.13,333.45 L121.32,333.95 L121.50,334.53 L121.69,335.17 L121.87,335.86 L122.05,336.57 L122.24,337.29 L122.42,338.00 L122.61,338.68 L122.79,339.32 L122.97,339.89 L123.16,340.38 L123.34,340.78 L123.53,341.09 L123.71,341.28 L123.90,341.37 L124.08,341.34 L124.26,341.20 L124.45,340.95 L124.63,340.60 L124.82,340.16 L125.00,339.64 L125.19,339.06 L125.37,338.43 L125.55,337.76 L125.74,337.08 L125.92,336.40 L126.11,335.75 L126.29,335.13 L126.48,334.56 L126.66,334.06 L126.84,333.64 L127.03,333.31 L127.21,333.08 L127.40,332.96 L127.58,332.94 L127.77,333.02 L127.95,333.21 L128.13,333.50 L128.32,333.88 L128.50,334.34 L128.69,334.86 L128.87,335.44 L129.06,336.05 L129.24,336.68 L129.42,337.32 L129.61,337.95 L129.79,338.55 L129.98,339.11 L130.16,339.60 L130.34,340.03 L130.53,340.38 L130.71,340.63 L130.90,340.79 L131.08,340.85 L131.27,340.81 L131.45,340.67 L131.63,340.44 L131.82,340.12 L132.00,339.71 L132.19,339.24 L132.37,338.72 L132.56,338.15 L132.74,337.56 L132.92,336.95 L133.11,336.35 L133.29,335.77 L133.48,335.23 L133.66,334.73 L133.85,334.29 L134.03,333.93 L134.21,333.65 L134.40,333.46 L134.58,333.36 L134.77,333.36 L134.95,333.45 L135.14,333.63 L135.32,333.89 L135.50,334.24 L135.69,334.66 L135.87,335.13 L136.06,335.65 L136.24,336.19 L136.43,336.76 L136.61,337.33 L136.79,337.88 L136.98,338.41 L137.16,338.90 L137.35,339.33 L137.53,339.70 L137.71,340.00 L137.90,340.21 L138.08,340.34 L138.27,340.38 L138.45,340.33 L138.64,340.20 L138.82,339.98 L139.00,339.68 L139.19,339.31 L139.37,338.89 L139.56,338.41 L139.74,337.90 L139.93,337.37 L140.11,336.83 L140.29,336.30 L140.48,335.79 L140.66,335.31 L140.85,334.88 L141.03,334.50 L141.22,334.19 L141.40,333.95 L141.58,333.79 L141.77,333.71 L141.95,333.72 L142.14,333.81 L142.32,333.98 L142.51,334.23 L142.69,334.55 L142.87,334.92 L143.06,335.35 L143.24,335.81 L143.43,336.30 L143.61,336.81 L143.80,337.31 L143.98,337.80 L144.16,338.27 L144.35,338.69 L144.53,339.07 L144.72,339.39 L144.90,339.64 L145.08,339.82 L145.27,339.93 L145.45,339.95 L145.64,339.90 L145.82,339.76 L146.01,339.56 L146.19,339.28 L146.37,338.95 L146.56,338.56 L146.74,338.14 L146.93,337.68 L147.11,337.21 L147.30,336.73 L147.48,336.26 L147.66,335.80 L147.85,335.38 L148.03,335.00 L148.22,334.67 L148.40,334.40 L148.59,334.20 L148.77,334.07 L148.95,334.01 L149.14,334.03 L149.32,334.12 L149.51,334.28 L149.69,334.51 L149.88,334.80 L150.06,335.14 L150.24,335.53 L150.43,335.94 L150.61,336.38 L150.80,336.83 L150.98,337.28 L151.16,337.71 L151.35,338.12 L151.53,338.49 L151.72,338.82 L151.90,339.10 L152.09,339.31 L152.27,339.46 L152.45,339.54 L152.64,339.55 L152.82,339.50 L153.01,339.37 L153.19,339.18 L153.38,338.92 L153.56,338.62 L153.74,338.27 L153.93,337.89 L154.11,337.48 L154.30,337.05 L154.48,336.63 L154.67,336.21 L154.85,335.81 L155.03,335.44 L155.22,335.11 L155.40,334.82 L155.59,334.59 L155.77,334.42 L155.96,334.31 L156.14,334.27 L156.32,334.30 L156.51,334.39 L156.69,334.54 L156.88,334.75 L157.06,335.01 L157.25,335.32 L157.43,335.67 L157.61,336.04 L157.80,336.43 L157.98,336.83 L158.17,337.23 L158.35,337.61 L158.54,337.97 L158.72,338.30 L158.90,338.58 L159.09,338.82 L159.27,339.00 L159.46,339.13 L159.64,339.19 L159.82,339.19 L160.01,339.13 L160.19,339.01 L160.38,338.83 L160.56,338.60 L160.75,338.32 L160.93,338.01 L161.11,337.66 L161.30,337.29 L161.48,336.92 L161.67,336.54 L161.85,336.17 L162.04,335.82 L162.22,335.49 L162.40,335.20 L162.59,334.95 L162.77,334.76 L162.96,334.61 L163.14,334.52 L163.33,334.49 L163.51,334.52 L163.69,334.61 L163.88,334.76 L164.06,334.95 L164.25,335.19 L164.43,335.47 L164.62,335.78 L164.80,336.12 L164.98,336.46 L165.17,336.82 L165.35,337.17 L165.54,337.51 L165.72,337.82 L165.91,338.11 L166.09,338.35 L166.27,338.56 L166.46,338.71 L166.64,338.82 L166.83,338.87 L167.01,338.86 L167.19,338.80 L167.38,338.68 L167.56,338.51 L167.75,338.30 L167.93,338.05 L168.12,337.76 L168.30,337.45 L168.48,337.13 L168.67,336.79 L168.85,336.45 L169.04,336.13 L169.22,335.82 L169.41,335.53 L169.59,335.28 L169.77,335.07 L169.96,334.90 L170.14,334.77 L170.33,334.70 L170.51,334.68 L170.70,334.72 L170.88,334.80 L171.06,334.94 L171.25,335.11 L171.43,335.33 L171.62,335.59 L171.80,335.87 L171.99,336.17 L172.17,336.48 L172.35,336.79 L172.54,337.10 L172.72,337.40 L172.91,337.68 L173.09,337.92 L173.27,338.14 L173.46,338.31 L173.64,338.45 L173.83,338.53 L174.01,338.57 L174.20,338.55 L174.38,338.49 L174.56,338.38 L174.75,338.23 L174.93,338.03 L175.12,337.80 L175.30,337.55 L175.49,337.27 L175.67,336.97 L175.85,336.67 L176.04,336.38 L176.22,336.09 L176.41,335.81 L176.59,335.56 L176.78,335.34 L176.96,335.16 L177.14,335.01 L177.33,334.91 L177.51,334.85 L177.70,334.84 L177.88,334.88 L178.07,334.96 L178.25,335.09 L178.43,335.25 L178.62,335.45 L178.80,335.68 L178.99,335.93 L179.17,336.20 L179.36,336.47 L179.54,336.75 L179.72,337.03 L179.91,337.29 L180.09,337.53 L180.28,337.75 L180.46,337.93 L180.64,338.08 L180.83,338.20 L181.01,338.26 L181.20,338.29 L181.38,338.27 L181.57,338.21 L181.75,338.10 L181.93,337.96 L182.12,337.78 L182.30,337.58 L182.49,337.35 L182.67,337.10 L182.86,336.83 L183.04,336.57 L183.22,336.30 L183.41,336.05 L183.59,335.81 L183.78,335.59 L183.96,335.39 L184.15,335.23 L184.33,335.11 L184.51,335.02 L184.70,334.98 L184.88,334.98 L185.07,335.01 L185.25,335.09 L185.44,335.21 L185.62,335.36 L185.80,335.54 L185.99,335.75 L186.17,335.97 L186.36,336.21 L186.54,336.46 L186.73,336.71 L186.91,336.95 L187.09,337.18 L187.28,337.39 L187.46,337.58 L187.65,337.74 L187.83,337.87 L188.01,337.96 L188.20,338.02 L188.38,338.03 L188.57,338.01 L188.75,337.95 L188.94,337.85 L189.12,337.72 L189.30,337.56 L189.49,337.37 L189.67,337.16 L189.86,336.94 L190.04,336.70 L190.23,336.47 L190.41,336.23 L190.59,336.01 L190.78,335.79 L190.96,335.60 L191.15,335.44 L191.33,335.30 L191.52,335.19 L191.70,335.12" fill="none" stroke="#ff0000" stroke-width="1.4"/>
<g fill="#5e0000"><circle cx="44.30" cy="345.65" r="1.3"/><circle cx="44.82" cy="350.68" r="1.3"/><circle cx="45.33" cy="351.15" r="1.3"/><circle cx="45.85" cy="348.53" r="1.3"/><circle cx="46.36" cy="344.22" r="1.3"/><circle cx="46.88" cy="337.18" r="1.3"/><circle cx="47.40" cy="330.40" r="1.3"/><circle cx="47.91" cy="325.85" r="1.3"/><circle cx="48.43" cy="320.80" r="1.3"/><circle cx="48.94" cy="320.60" r="1.3"/><circle cx="49.46" cy="323.87" r="1.3"/><circle cx="49.97" cy="328.51" r="1.3"/><circle cx="50.49" cy="334.39" r="1.3"/><circle cx="51.01" cy="341.31" r="1.3"/><circle cx="51.52" cy="346.56" r="1.3"/><circle cx="52.04" cy="350.43" r="1.3"/><circle cx="52.55" cy="349.42" r="1.3"/><circle cx="53.07" cy="347.24" r="1.3"/><circle cx="53.59" cy="342.45" r="1.3"/><circle cx="54.10" cy="337.74" r="1.3"/><circle cx="54.62" cy="329.60" r="1.3"/><circle cx="55.13" cy="325.82" r="1.3"/><circle cx="55.65" cy="323.51" r="1.3"/><circle cx="56.17" cy="321.73" r="1.3"/><circle cx="56.68" cy="325.72" r="1.3"/><circle cx="57.20" cy="331.30" r="1.3"/><circle cx="57.71" cy="336.23" r="1.3"/><circle cx="58.23" cy="343.25" r="1.3"/><circle cx="58.75" cy="345.29" r="1.3"/><circle cx="59.26" cy="348.81" r="1.3"/><circle cx="59.78" cy="349.02" r="1.3"/><circle cx="60.29" cy="345.19" r="1.3"/><circle cx="60.81" cy="342.89" r="1.3"/><circle cx="61.32" cy="335.88" r="1.3"/><circle cx="61.84" cy="332.64" r="1.3"/><circle cx="62.36" cy="327.49" r="1.3"/><circle cx="62.87" cy="325.79" r="1.3"/><circle cx="63.39" cy="323.92" r="1.3"/><circle cx="63.90" cy="326.16" r="1.3"/><circle cx="64.42" cy="332.06" r="1.3"/><circle cx="64.94" cy="336.22" r="1.3"/><circle cx="65.45" cy="341.97" r="1.3"/><circle cx="65.97" cy="345.16" r="1.3"/><circle cx="66.48" cy="348.15" r="1.3"/><circle cx="67.00" cy="348.63" r="1.3"/><circle cx="67.52" cy="346.29" r="1.3"/><circle cx="68.03" cy="340.43" r="1.3"/><circle cx="68.55" cy="334.05" r="1.3"/><circle cx="69.06" cy="331.14" r="1.3"/><circle cx="69.58" cy="328.37" r="1.3"/><circle cx="70.09" cy="324.62" r="1.3"/><circle cx="70.61" cy="326.52" r="1.3"/><circle cx="71.13" cy="329.07" r="1.3"/><circle cx="71.64" cy="332.84" r="1.3"/><circle cx="72.16" cy="337.74" r="1.3"/><circle cx="72.67" cy="342.20" r="1.3"/><circle cx="73.19" cy="346.41" r="1.3"/><circle cx="73.71" cy="346.13" r="1.3"/><circle cx="74.22" cy="346.14" r="1.3"/><circle cx="74.74" cy="342.59" r="1.3"/><circle cx="75.25" cy="340.31" r="1.3"/><circle cx="75.77" cy="337.45" r="1.3"/><circle cx="76.29" cy="331.78" r="1.3"/><circle cx="76.80" cy="327.18" r="1.3"/><circle cx="77.32" cy="327.90" r="1.3"/><circle cx="77.83" cy="329.02" r="1.3"/><circle cx="78.35" cy="331.67" r="1.3"/><circle cx="78.87" cy="335.11" r="1.3"/><circle cx="79.38" cy="338.46" r="1.3"/><circle cx="79.90" cy="343.06" r="1.3"/><circle cx="80.41" cy="343.10" r="1.3"/><circle cx="80.93" cy="345.95" r="1.3"/><circle cx="81.44" cy="344.87" r="1.3"/><circle cx="81.96" cy="341.25" r="1.3"/><circle cx="82.48" cy="337.77" r="1.3"/><circle cx="82.99" cy="335.68" r="1.3"/><circle cx="83.51" cy="331.66" r="1.3"/><circle cx="84.02" cy="328.82" r="1.3"/><circle cx="84.54" cy="328.86" r="1.3"/><circle cx="85.06" cy="331.26" r="1.3"/><circle cx="85.57" cy="330.99" r="1.3"/><circle cx="86.09" cy="334.00" r="1.3"/><circle cx="86.60" cy="338.12" r="1.3"/><circle cx="87.12" cy="342.78" r="1.3"/><circle cx="87.64" cy="344.23" r="1.3"/><circle cx="88.15" cy="345.43" r="1.3"/><circle cx="88.67" cy="344.32" r="1.3"/><circle cx="89.18" cy="340.40" r="1.3"/><circle cx="89.70" cy="337.03" r="1.3"/><circle cx="90.22" cy="334.56" r="1.3"/><circle cx="90.73" cy="331.69" r="1.3"/><circle cx="91.25" cy="329.54" r="1.3"/><circle cx="91.76" cy="329.67" r="1.3"/><circle cx="92.28" cy="330.59" r="1.3"/><circle cx="92.79" cy="333.40" r="1.3"/><circle cx="93.31" cy="335.68" r="1.3"/><circle cx="93.83" cy="336.25" r="1.3"/><circle cx="94.34" cy="340.63" r="1.3"/><circle cx="94.86" cy="343.84" r="1.3"/><circle cx="95.37" cy="344.51" r="1.3"/><circle cx="95.89" cy="344.09" r="1.3"/><circle cx="96.41" cy="340.58" r="1.3"/><circle cx="96.92" cy="337.73" r="1.3"/><circle cx="97.44" cy="336.88" r="1.3"/><circle cx="97.95" cy="332.01" r="1.3"/><circle cx="98.47" cy="331.62" r="1.3"/><circle cx="98.99" cy="328.83" r="1.3"/><circle cx="99.50" cy="331.26" r="1.3"/><circle cx="100.02" cy="331.38" r="1.3"/><circle cx="100.53" cy="336.72" r="1.3"/><circle cx="101.05" cy="339.35" r="1.3"/><circle cx="101.56" cy="341.03" r="1.3"/><circle cx="102.08" cy="341.59" r="1.3"/><circle cx="102.60" cy="342.49" r="1.3"/><circle cx="103.11" cy="343.81" r="1.3"/><circle cx="103.63" cy="340.09" r="1.3"/><circle cx="104.14" cy="337.72" r="1.3"/><circle cx="104.66" cy="335.63" r="1.3"/><circle cx="105.18" cy="333.69" r="1.3"/><circle cx="105.69" cy="329.30" r="1.3"/><circle cx="106.21" cy="331.81" r="1.3"/><circle cx="106.72" cy="333.34" r="1.3"/><circle cx="107.24" cy="333.32" r="1.3"/><circle cx="107.76" cy="336.41" r="1.3"/><circle cx="108.27" cy="339.18" r="1.3"/><circle cx="108.79" cy="340.11" r="1.3"/><circle cx="109.30" cy="341.70" r="1.3"/><circle cx="109.82" cy="342.00" r="1.3"/><circle cx="110.34" cy="340.25" r="1.3"/><circle cx="110.85" cy="339.32" r="1.3"/><circle cx="111.37" cy="338.21" r="1.3"/><circle cx="111.88" cy="335.53" r="1.3"/><circle cx="112.40" cy="333.85" r="1.3"/><circle cx="112.91" cy="331.78" r="1.3"/><circle cx="113.43" cy="333.47" r="1.3"/><circle cx="113.95" cy="335.46" r="1.3"/><circle cx="114.46" cy="334.59" r="1.3"/><circle cx="114.98" cy="338.76" r="1.3"/><circle cx="115.49" cy="341.81" r="1.3"/><circle cx="116.01" cy="340.33" r="1.3"/><circle cx="116.53" cy="342.81" r="1.3"/><circle cx="117.04" cy="341.11" r="1.3"/><circle cx="117.56" cy="341.61" r="1.3"/><circle cx="118.07" cy="340.75" r="1.3"/><circle cx="118.59" cy="338.84" r="1.3"/><circle cx="119.11" cy="335.75" r="1.3"/><circle cx="119.62" cy="333.79" r="1.3"/><circle cx="120.14" cy="333.73" r="1.3"/><circle cx="120.65" cy="333.01" r="1.3"/><circle cx="121.17" cy="335.78" r="1.3"/><circle cx="121.69" cy="335.15" r="1.3"/><circle cx="122.20" cy="339.78" r="1.3"/><circle cx="122.72" cy="339.36" r="1.3"/><circle cx="123.23" cy="339.52" r="1.3"/><circle cx="123.75" cy="339.69" r="1.3"/><circle cx="124.26" cy="338.64" r="1.3"/><circle cx="124.78" cy="342.58" r="1.3"/><circle cx="125.30" cy="337.54" r="1.3"/><circle cx="125.81" cy="334.99" r="1.3"/><circle cx="126.33" cy="333.53" r="1.3"/><circle cx="126.84" cy="335.05" r="1.3"/><circle cx="127.36" cy="332.35" r="1.3"/><circle cx="127.88" cy="330.28" r="1.3"/><circle cx="128.39" cy="336.35" r="1.3"/><circle cx="128.91" cy="334.82" r="1.3"/><circle cx="129.42" cy="335.60" r="1.3"/><circle cx="129.94" cy="340.08" r="1.3"/><circle cx="130.46" cy="339.34" r="1.3"/><circle cx="130.97" cy="342.51" r="1.3"/><circle cx="131.49" cy="341.91" r="1.3"/><circle cx="132.00" cy="341.00" r="1.3"/><circle cx="132.52" cy="337.96" r="1.3"/><circle cx="133.03" cy="336.73" r="1.3"/><circle cx="133.55" cy="333.50" r="1.3"/><circle cx="134.07" cy="335.38" r="1.3"/><circle cx="134.58" cy="333.57" r="1.3"/><circle cx="135.10" cy="332.03" r="1.3"/><circle cx="135.61" cy="333.57" r="1.3"/><circle cx="136.13" cy="338.02" r="1.3"/><circle cx="136.65" cy="336.35" r="1.3"/><circle cx="137.16" cy="339.68" r="1.3"/><circle cx="137.68" cy="339.31" r="1.3"/><circle cx="138.19" cy="339.88" r="1.3"/><circle cx="138.71" cy="338.10" r="1.3"/><circle cx="139.23" cy="339.04" r="1.3"/><circle cx="139.74" cy="341.00" r="1.3"/><circle cx="140.26" cy="338.70" r="1.3"/><circle cx="140.77" cy="333.81" r="1.3"/><circle cx="141.29" cy="334.52" r="1.3"/><circle cx="141.81" cy="331.78" r="1.3"/><circle cx="142.32" cy="333.52" r="1.3"/><circle cx="142.84" cy="336.12" r="1.3"/><circle cx="143.35" cy="334.25" r="1.3"/><circle cx="143.87" cy="338.89" r="1.3"/><circle cx="144.38" cy="342.31" r="1.3"/><circle cx="144.90" cy="336.08" r="1.3"/><circle cx="145.42" cy="343.26" r="1.3"/><circle cx="145.93" cy="338.54" r="1.3"/><circle cx="146.45" cy="337.16" r="1.3"/><circle cx="146.96" cy="337.33" r="1.3"/><circle cx="147.48" cy="339.21" r="1.3"/><circle cx="148.00" cy="333.28" r="1.3"/><circle cx="148.51" cy="336.83" r="1.3"/><circle cx="149.03" cy="336.40" r="1.3"/><circle cx="149.54" cy="334.97" r="1.3"/><circle cx="150.06" cy="333.73" r="1.3"/><circle cx="150.58" cy="335.75" r="1.3"/><circle cx="151.09" cy="336.08" r="1.3"/><circle cx="151.61" cy="339.43" r="1.3"/><circle cx="152.12" cy="339.66" r="1.3"/><circle cx="152.64" cy="341.62" r="1.3"/><circle cx="153.15" cy="339.80" r="1.3"/><circle cx="153.67" cy="337.33" r="1.3"/><circle cx="154.19" cy="337.86" r="1.3"/><circle cx="154.70" cy="335.25" r="1.3"/><circle cx="155.22" cy="336.17" r="1.3"/><circle cx="155.73" cy="335.55" r="1.3"/><circle cx="156.25" cy="334.21" r="1.3"/><circle cx="156.77" cy="334.98" r="1.3"/><circle cx="157.28" cy="334.28" r="1.3"/><circle cx="157.80" cy="336.10" r="1.3"/><circle cx="158.31" cy="334.26" r="1.3"/><circle cx="158.83" cy="338.89" r="1.3"/><circle cx="159.35" cy="339.49" r="1.3"/><circle cx="159.86" cy="341.16" r="1.3"/><circle cx="160.38" cy="338.78" r="1.3"/><circle cx="160.89" cy="336.76" r="1.3"/><circle cx="161.41" cy="338.49" r="1.3"/><circle cx="161.93" cy="336.12" r="1.3"/><circle cx="162.44" cy="333.76" r="1.3"/><circle cx="162.96" cy="334.86" r="1.3"/><circle cx="163.47" cy="335.52" r="1.3"/><circle cx="163.99" cy="332.97" r="1.3"/><circle cx="164.50" cy="335.40" r="1.3"/><circle cx="165.02" cy="335.76" r="1.3"/><circle cx="165.54" cy="335.20" r="1.3"/><circle cx="166.05" cy="336.05" r="1.3"/><circle cx="166.57" cy="339.47" r="1.3"/><circle cx="167.08" cy="339.88" r="1.3"/><circle cx="167.60" cy="337.91" r="1.3"/><circle cx="168.12" cy="338.03" r="1.3"/><circle cx="168.63" cy="340.66" r="1.3"/><circle cx="169.15" cy="333.38" r="1.3"/><circle cx="169.66" cy="335.15" r="1.3"/><circle cx="170.18" cy="333.27" r="1.3"/><circle cx="170.70" cy="337.09" r="1.3"/><circle cx="171.21" cy="332.46" r="1.3"/><circle cx="171.73" cy="336.95" r="1.3"/><circle cx="172.24" cy="336.82" r="1.3"/><circle cx="172.76" cy="340.33" r="1.3"/><circle cx="173.27" cy="338.48" r="1.3"/><circle cx="173.79" cy="338.99" r="1.3"/><circle cx="174.31" cy="338.90" r="1.3"/><circle cx="174.82" cy="337.24" r="1.3"/><circle cx="175.34" cy="337.37" r="1.3"/><circle cx="175.85" cy="334.64" r="1.3"/><circle cx="176.37" cy="336.85" r="1.3"/><circle cx="176.89" cy="337.32" r="1.3"/><circle cx="177.40" cy="334.92" r="1.3"/><circle cx="177.92" cy="333.57" r="1.3"/><circle cx="178.43" cy="332.62" r="1.3"/><circle cx="178.95" cy="334.15" r="1.3"/><circle cx="179.47" cy="340.40" r="1.3"/><circle cx="179.98" cy="336.58" r="1.3"/><circle cx="180.50" cy="334.84" r="1.3"/><circle cx="181.01" cy="338.13" r="1.3"/><circle cx="181.53" cy="339.33" r="1.3"/><circle cx="182.05" cy="337.19" r="1.3"/><circle cx="182.56" cy="338.34" r="1.3"/><circle cx="183.08" cy="335.13" r="1.3"/><circle cx="183.59" cy="335.83" r="1.3"/><circle cx="184.11" cy="332.23" r="1.3"/><circle cx="184.62" cy="333.90" r="1.3"/><circle cx="185.14" cy="336.63" r="1.3"/><circle cx="185.66" cy="334.06" r="1.3"/><circle cx="186.17" cy="333.91" r="1.3"/><circle cx="186.69" cy="337.91" r="1.3"/><circle cx="187.20" cy="338.25" r="1.3"/><circle cx="187.72" cy="342.92" r="1.3"/><circle cx="188.24" cy="336.01" r="1.3"/><circle cx="188.75" cy="339.26" r="1.3"/><circle cx="189.27" cy="342.35" r="1.3"/><circle cx="189.78" cy="341.00" r="1.3"/><circle cx="190.30" cy="336.87" r="1.3"/><circle cx="190.82" cy="334.04" r="1.3"/><circle cx="191.33" cy="335.50" r="1.3"/></g>
<rect x="43.9" y="305.9" width="149.5" height="65.40000000000003" fill="none" stroke="#000" stroke-width="1.35"/>
<line x1="37.60" y1="305.90" x2="43.90" y2="305.90" stroke="#000" stroke-width="1.1" />
<text x="34.90" y="309.20" font-size="9.5" text-anchor="end" fill="#000" font-weight="normal" font-style="normal" font-family='"Liberation Sans", sans-serif' stroke="#000" stroke-width="0.3" >1.3</text>
<line x1="37.60" y1="324.80" x2="43.90" y2="324.80" stroke="#000" stroke-width="1.1" />
<text x="34.90" y="328.10" font-size="9.5" text-anchor="end" fill="#000" font-weight="normal" font-style="normal" font-family='"Liberation Sans", sans-serif' stroke="#000" stroke-width="0.3" >1.1</text>
<line x1="37.60" y1="343.70" x2="43.90" y2="343.70" stroke="#000" stroke-width="1.1" />
<text x="34.90" y="347.00" font-size="9.5" text-anchor="end" fill="#000" font-weight="normal" font-style="normal" font-family='"Liberation Sans", sans-serif' stroke="#000" stroke-width="0.3" >0.9</text>
<line x1="37.60" y1="362.60" x2="43.90" y2="362.60" stroke="#000" stroke-width="1.1" />
<text x="34.90" y="365.90" font-size="9.5" text-anchor="end" fill="#000" font-weight="normal" font-style="normal" font-family='"Liberation Sans", sans-serif' stroke="#000" stroke-width="0.3" >0.7</text>
<line x1="44.30" y1="371.30" x2="44.30" y2="377.40" stroke="#000" stroke-width="1.1" />
<text x="44.30" y="387.20" font-size="9.5" text-anchor="middle" fill="#000" font-weight="normal" font-style="normal" font-family='"Liberation Sans", sans-serif' stroke="#000" stroke-width="0.3" >0</text>
<line x1="118.00" y1="371.30" x2="118.00" y2="377.40" stroke="#000" stroke-width="1.1" />
<text x="118.00" y="387.20" font-size="9.5" text-anchor="middle" fill="#000" font-weight="normal" font-style="normal" font-family='"Liberation Sans", sans-serif' stroke="#000" stroke-width="0.3" >2</text>
<line x1="191.70" y1="371.30" x2="191.70" y2="377.40" stroke="#000" stroke-width="1.1" />
<text x="191.70" y="387.20" font-size="9.5" text-anchor="middle" fill="#000" font-weight="normal" font-style="normal" font-family='"Liberation Sans", sans-serif' stroke="#000" stroke-width="0.3" >4</text>
<line x1="81.15" y1="371.30" x2="81.15" y2="374.60" stroke="#000" stroke-width="1.1" />
<line x1="154.85" y1="371.30" x2="154.85" y2="374.60" stroke="#000" stroke-width="1.1" />
<text x="119.80" y="398.80" font-size="9.5" text-anchor="middle" fill="#000" font-weight="normal" font-style="normal" font-family='"Liberation Sans", sans-serif' stroke="#000" stroke-width="0.3" >τ (μs)</text>
<text x="16.00" y="335.40" font-size="9.5" text-anchor="middle" fill="#000" font-weight="normal" font-style="normal" font-family='"Liberation Sans", sans-serif' stroke="#000" stroke-width="0.3" transform="rotate(-90 16.0 335.4)">PL (a.u.)</text>
<text x="117.40" y="321.40" font-size="9.3" text-anchor="start" fill="#000" font-weight="normal" font-style="normal" font-family='"Liberation Sans", sans-serif' stroke="#000" stroke-width="0.3" ><tspan font-style="italic">Δ</tspan> = -261 kHz</text>
<text x="200.10" y="87.30" font-size="9.2" text-anchor="start" fill="#000" font-weight="bold" font-style="normal" font-family='"Liberation Sans", sans-serif' stroke="#000" stroke-width="0.3" >(d)</text>
<path d="M238.45,198.62 L238.69,198.62 L238.94,198.61 L239.18,198.61 L239.43,198.60 L239.68,198.60 L239.92,198.59 L240.17,198.59 L240.42,198.59 L240.66,198.58 L240.91,198.58 L241.16,198.57 L241.40,198.57 L241.65,198.56 L241.89,198.56 L242.14,198.55 L242.39,198.55 L242.63,198.54 L242.88,198.54 L243.13,198.53 L243.37,198.53 L243.62,198.52 L243.86,198.52 L244.11,198.51 L244.36,198.51 L244.60,198.50 L244.85,198.50 L245.10,198.49 L245.34,198.49 L245.59,198.48 L245.83,198.48 L246.08,198.47 L246.33,198.47 L246.57,198.46 L246.82,198.46 L247.07,198.45 L247.31,198.45 L247.56,198.44 L247.81,198.43 L248.05,198.43 L248.30,198.42 L248.54,198.42 L248.79,198.41 L249.04,198.40 L249.28,198.40 L249.53,198.39 L249.78,198.39 L250.02,198.38 L250.27,198.37 L250.51,198.37 L250.76,198.36 L251.01,198.35 L251.25,198.35 L251.50,198.34 L251.75,198.33 L251.99,198.33 L252.24,198.32 L252.48,198.31 L252.73,198.31 L252.98,198.30 L253.22,198.29 L253.47,198.28 L253.72,198.28 L253.96,198.27 L254.21,198.26 L254.46,198.25 L254.70,198.25 L254.95,198.24 L255.19,198.23 L255.44,198.22 L255.69,198.22 L255.93,198.21 L256.18,198.20 L256.43,198.19 L256.67,198.18 L256.92,198.17 L257.16,198.17 L257.41,198.16 L257.66,198.15 L257.90,198.14 L258.15,198.13 L258.40,198.12 L258.64,198.11 L258.89,198.10 L259.13,198.09 L259.38,198.09 L259.63,198.08 L259.87,198.07 L260.12,198.06 L260.37,198.05 L260.61,198.04 L260.86,198.03 L261.11,198.02 L261.35,198.01 L261.60,198.00 L261.84,197.99 L262.09,197.98 L262.34,197.96 L262.58,197.95 L262.83,197.94 L263.08,197.93 L263.32,197.92 L263.57,197.91 L263.81,197.90 L264.06,197.89 L264.31,197.87 L264.55,197.86 L264.80,197.85 L265.05,197.84 L265.29,197.83 L265.54,197.81 L265.79,197.80 L266.03,197.79 L266.28,197.78 L266.52,197.76 L266.77,197.75 L267.02,197.74 L267.26,197.72 L267.51,197.71 L267.76,197.69 L268.00,197.68 L268.25,197.67 L268.49,197.65 L268.74,197.64 L268.99,197.62 L269.23,197.61 L269.48,197.59 L269.73,197.58 L269.97,197.56 L270.22,197.55 L270.46,197.53 L270.71,197.51 L270.96,197.50 L271.20,197.48 L271.45,197.46 L271.70,197.45 L271.94,197.43 L272.19,197.41 L272.44,197.39 L272.68,197.38 L272.93,197.36 L273.17,197.34 L273.42,197.32 L273.67,197.30 L273.91,197.28 L274.16,197.26 L274.41,197.24 L274.65,197.22 L274.90,197.20 L275.14,197.18 L275.39,197.16 L275.64,197.14 L275.88,197.12 L276.13,197.10 L276.38,197.07 L276.62,197.05 L276.87,197.03 L277.11,197.01 L277.36,196.98 L277.61,196.96 L277.85,196.93 L278.10,196.91 L278.35,196.89 L278.59,196.86 L278.84,196.83 L279.09,196.81 L279.33,196.78 L279.58,196.76 L279.82,196.73 L280.07,196.70 L280.32,196.67 L280.56,196.64 L280.81,196.61 L281.06,196.59 L281.30,196.56 L281.55,196.52 L281.79,196.49 L282.04,196.46 L282.29,196.43 L282.53,196.40 L282.78,196.37 L283.03,196.33 L283.27,196.30 L283.52,196.26 L283.77,196.23 L284.01,196.19 L284.26,196.16 L284.50,196.12 L284.75,196.08 L285.00,196.04 L285.24,196.00 L285.49,195.96 L285.74,195.92 L285.98,195.88 L286.23,195.84 L286.47,195.80 L286.72,195.76 L286.97,195.71 L287.21,195.67 L287.46,195.62 L287.71,195.58 L287.95,195.53 L288.20,195.48 L288.44,195.43 L288.69,195.38 L288.94,195.33 L289.18,195.28 L289.43,195.23 L289.68,195.17 L289.92,195.12 L290.17,195.06 L290.42,195.00 L290.66,194.95 L290.91,194.89 L291.15,194.83 L291.40,194.76 L291.65,194.70 L291.89,194.64 L292.14,194.57 L292.39,194.50 L292.63,194.44 L292.88,194.37 L293.12,194.29 L293.37,194.22 L293.62,194.15 L293.86,194.07 L294.11,193.99 L294.36,193.91 L294.60,193.83 L294.85,193.75 L295.09,193.66 L295.34,193.58 L295.59,193.49 L295.83,193.40 L296.08,193.31 L296.33,193.21 L296.57,193.11 L296.82,193.01 L297.07,192.91 L297.31,192.81 L297.56,192.70 L297.80,192.59 L298.05,192.48 L298.30,192.36 L298.54,192.24 L298.79,192.12 L299.04,192.00 L299.28,191.87 L299.53,191.74 L299.77,191.60 L300.02,191.46 L300.27,191.32 L300.51,191.17 L300.76,191.02 L301.01,190.87 L301.25,190.71 L301.50,190.54 L301.75,190.37 L301.99,190.20 L302.24,190.02 L302.48,189.83 L302.73,189.64 L302.98,189.45 L303.22,189.24 L303.47,189.03 L303.72,188.81 L303.96,188.59 L304.21,188.36 L304.45,188.12 L304.70,187.87 L304.95,187.61 L305.19,187.35 L305.44,187.07 L305.69,186.78 L305.93,186.49 L306.18,186.18 L306.42,185.86 L306.67,185.52 L306.92,185.18 L307.16,184.82 L307.41,184.44 L307.66,184.05 L307.90,183.64 L308.15,183.22 L308.40,182.77 L308.64,182.31 L308.89,181.83 L309.13,181.32 L309.38,180.79 L309.63,180.23 L309.87,179.65 L310.12,179.04 L310.37,178.40 L310.61,177.73 L310.86,177.03 L311.10,176.29 L311.35,175.51 L311.60,174.69 L311.84,173.82 L312.09,172.92 L312.34,171.96 L312.58,170.95 L312.83,169.88 L313.07,168.76 L313.32,167.57 L313.57,166.32 L313.81,165.01 L314.06,163.62 L314.31,162.15 L314.55,160.61 L314.80,158.98 L315.05,157.27 L315.29,155.48 L315.54,153.59 L315.78,151.62 L316.03,149.57 L316.28,147.43 L316.52,145.21 L316.77,142.91 L317.02,140.56 L317.26,138.15 L317.51,135.71 L317.75,133.25 L318.00,130.80 L318.25,128.39 L318.49,126.04 L318.74,123.79 L318.99,121.68 L319.23,119.75 L319.48,118.03 L319.72,116.56 L319.97,115.38 L320.22,114.52 L320.46,113.99 L320.71,113.81 L320.96,113.99 L321.20,114.51 L321.45,115.37 L321.70,116.55 L321.94,118.01 L322.19,119.73 L322.43,121.66 L322.68,123.77 L322.93,126.02 L323.17,128.36 L323.42,130.78 L323.67,133.23 L323.91,135.68 L324.16,138.13 L324.40,140.53 L324.65,142.89 L324.90,145.18 L325.14,147.40 L325.39,149.55 L325.64,151.60 L325.88,153.57 L326.13,155.46 L326.38,157.25 L326.62,158.97 L326.87,160.59 L327.11,162.14 L327.36,163.60 L327.61,164.99 L327.85,166.31 L328.10,167.56 L328.35,168.75 L328.59,169.87 L328.84,170.94 L329.08,171.95 L329.33,172.91 L329.58,173.82 L329.82,174.68 L330.07,175.50 L330.32,176.28 L330.56,177.02 L330.81,177.73 L331.05,178.40 L331.30,179.04 L331.55,179.65 L331.79,180.23 L332.04,180.78 L332.29,181.31 L332.53,181.82 L332.78,182.31 L333.03,182.77 L333.27,183.21 L333.52,183.64 L333.76,184.05 L334.01,184.44 L334.26,184.81 L334.50,185.17 L334.75,185.52 L335.00,185.85 L335.24,186.17 L335.49,186.48 L335.73,186.78 L335.98,187.07 L336.23,187.34 L336.47,187.61 L336.72,187.87 L336.97,188.12 L337.21,188.36 L337.46,188.59 L337.70,188.81 L337.95,189.03 L338.20,189.24 L338.44,189.44 L338.69,189.64 L338.94,189.83 L339.18,190.02 L339.43,190.20 L339.68,190.37 L339.92,190.54 L340.17,190.71 L340.41,190.87 L340.66,191.02 L340.91,191.17 L341.15,191.32 L341.40,191.46 L341.65,191.60 L341.89,191.74 L342.14,191.87 L342.38,192.00 L342.63,192.12 L342.88,192.24 L343.12,192.36 L343.37,192.48 L343.62,192.59 L343.86,192.70 L344.11,192.81 L344.36,192.91 L344.60,193.01 L344.85,193.11 L345.09,193.21 L345.34,193.30 L345.59,193.40 L345.83,193.49 L346.08,193.58 L346.33,193.66 L346.57,193.75 L346.82,193.83 L347.06,193.91 L347.31,193.99 L347.56,194.07 L347.80,194.15 L348.05,194.22 L348.30,194.29 L348.54,194.36 L348.79,194.43 L349.03,194.50 L349.28,194.57 L349.53,194.64 L349.77,194.70 L350.02,194.76 L350.27,194.82 L350.51,194.89 L350.76,194.94 L351.01,195.00 L351.25,195.06 L351.50,195.12 L351.74,195.17 L351.99,195.22 L352.24,195.28 L352.48,195.33 L352.73,195.38 L352.98,195.43 L353.22,195.48 L353.47,195.53 L353.71,195.57 L353.96,195.62 L354.21,195.67 L354.45,195.71 L354.70,195.76 L354.95,195.80 L355.19,195.84 L355.44,195.88 L355.68,195.92 L355.93,195.96 L356.18,196.00 L356.42,196.04 L356.67,196.08 L356.92,196.12 L357.16,196.16 L357.41,196.19 L357.66,196.23 L357.90,196.26 L358.15,196.30 L358.39,196.33 L358.64,196.37 L358.89,196.40 L359.13,196.43 L359.38,196.46 L359.63,196.49 L359.87,196.52 L360.12,196.55 L360.36,196.58 L360.61,196.61 L360.86,196.64 L361.10,196.67 L361.35,196.70 L361.60,196.73 L361.84,196.75 L362.09,196.78 L362.34,196.81 L362.58,196.83 L362.83,196.86 L363.07,196.89 L363.32,196.91 L363.57,196.93 L363.81,196.96 L364.06,196.98 L364.31,197.01 L364.55,197.03 L364.80,197.05 L365.04,197.07 L365.29,197.10 L365.54,197.12 L365.78,197.14 L366.03,197.16 L366.28,197.18 L366.52,197.20 L366.77,197.22 L367.01,197.24 L367.26,197.26 L367.51,197.28 L367.75,197.30 L368.00,197.32 L368.25,197.34 L368.49,197.36 L368.74,197.38 L368.99,197.39 L369.23,197.41 L369.48,197.43 L369.72,197.45 L369.97,197.46 L370.22,197.48 L370.46,197.50 L370.71,197.51 L370.96,197.53 L371.20,197.55 L371.45,197.56 L371.69,197.58 L371.94,197.59 L372.19,197.61 L372.43,197.62 L372.68,197.64 L372.93,197.65 L373.17,197.67 L373.42,197.68 L373.66,197.69 L373.91,197.71 L374.16,197.72 L374.40,197.74 L374.65,197.75 L374.90,197.76 L375.14,197.78 L375.39,197.79 L375.64,197.80 L375.88,197.81 L376.13,197.83 L376.37,197.84 L376.62,197.85 L376.87,197.86 L377.11,197.87 L377.36,197.89 L377.61,197.90 L377.85,197.91 L378.10,197.92 L378.34,197.93 L378.59,197.94 L378.84,197.95 L379.08,197.96 L379.33,197.98 L379.58,197.99 L379.82,198.00 L380.07,198.01 L380.31,198.02 L380.56,198.03 L380.81,198.04 L381.05,198.05 L381.30,198.06 L381.55,198.07 L381.79,198.08 L382.04,198.09 L382.29,198.09 L382.53,198.10 L382.78,198.11 L383.02,198.12 L383.27,198.13 L383.52,198.14 L383.76,198.15 L384.01,198.16 L384.26,198.17 L384.50,198.17 L384.75,198.18 L384.99,198.19 L385.24,198.20 L385.49,198.21 L385.73,198.22 L385.98,198.22 L386.23,198.23 L386.47,198.24 L386.72,198.25 L386.97,198.25 L387.21,198.26 L387.46,198.27 L387.70,198.28 L387.95,198.28 L388.20,198.29 L388.44,198.30 L388.69,198.31 L388.94,198.31 L389.18,198.32 L389.43,198.33 L389.67,198.33 L389.92,198.34 L390.17,198.35 L390.41,198.35 L390.66,198.36 L390.91,198.37 L391.15,198.37 L391.40,198.38 L391.64,198.39 L391.89,198.39 L392.14,198.40 L392.38,198.40 L392.63,198.41 L392.88,198.42 L393.12,198.42 L393.37,198.43 L393.62,198.43 L393.86,198.44 L394.11,198.45 L394.35,198.45 L394.60,198.46 L394.85,198.46 L395.09,198.47 L395.34,198.47 L395.59,198.48 L395.83,198.48 L396.08,198.49 L396.32,198.49 L396.57,198.50 L396.82,198.50 L397.06,198.51 L397.31,198.51 L397.56,198.52 L397.80,198.52 L398.05,198.53 L398.29,198.53 L398.54,198.54 L398.79,198.54 L399.03,198.55 L399.28,198.55 L399.53,198.56 L399.77,198.56 L400.02,198.57 L400.27,198.57 L400.51,198.58 L400.76,198.58 L401.00,198.59 L401.25,198.59 L401.50,198.59 L401.74,198.60 L401.99,198.60 L402.24,198.61 L402.48,198.61 L402.73,198.62 L402.97,198.62 L403.22,198.62 L403.47,198.63 L403.71,198.63 L403.96,198.64 L404.21,198.64 L404.45,198.64 L404.70,198.65 L404.95,198.65 L405.19,198.66 L405.44,198.66 L405.68,198.66 L405.93,198.67 L406.18,198.67 L406.42,198.67 L406.67,198.68 L406.92,198.68 L407.16,198.69 L407.41,198.69 L407.65,198.69 L407.90,198.70 L408.15,198.70 L408.39,198.70 L408.64,198.71 L408.89,198.71 L409.13,198.71 L409.38,198.72 L409.62,198.72 L409.87,198.72 L410.12,198.73 L410.36,198.73 L410.61,198.73" fill="none" stroke="#ff0000" stroke-width="1.9"/>
<g fill="#6e0000"><circle cx="243.40" cy="202.60" r="1.95"/><circle cx="246.90" cy="197.90" r="1.95"/><circle cx="250.70" cy="201.00" r="1.95"/><circle cx="254.30" cy="198.70" r="1.95"/><circle cx="257.70" cy="196.40" r="1.95"/><circle cx="261.10" cy="197.90" r="1.95"/><circle cx="264.70" cy="192.50" r="1.95"/><circle cx="268.20" cy="198.70" r="1.95"/><circle cx="272.00" cy="193.30" r="1.95"/><circle cx="275.50" cy="201.80" r="1.95"/><circle cx="278.90" cy="194.50" r="1.95"/><circle cx="282.20" cy="195.30" r="1.95"/><circle cx="285.90" cy="198.70" r="1.95"/><circle cx="289.50" cy="196.00" r="1.95"/><circle cx="293.00" cy="194.00" r="1.95"/><circle cx="296.30" cy="198.00" r="1.95"/><circle cx="300.00" cy="189.80" r="1.95"/><circle cx="303.70" cy="186.50" r="1.95"/><circle cx="306.90" cy="177.60" r="1.95"/><circle cx="310.40" cy="176.40" r="1.95"/><circle cx="313.70" cy="146.80" r="1.95"/><circle cx="317.40" cy="133.50" r="1.95"/><circle cx="320.80" cy="117.00" r="1.95"/><circle cx="324.60" cy="121.00" r="1.95"/><circle cx="328.10" cy="171.70" r="1.95"/><circle cx="331.60" cy="175.40" r="1.95"/><circle cx="335.00" cy="182.40" r="1.95"/><circle cx="338.80" cy="182.20" r="1.95"/><circle cx="342.20" cy="188.00" r="1.95"/><circle cx="345.80" cy="193.20" r="1.95"/><circle cx="349.60" cy="189.70" r="1.95"/><circle cx="353.10" cy="194.90" r="1.95"/><circle cx="356.60" cy="193.50" r="1.95"/><circle cx="360.00" cy="193.20" r="1.95"/><circle cx="363.50" cy="197.00" r="1.95"/><circle cx="367.00" cy="196.50" r="1.95"/><circle cx="370.50" cy="199.60" r="1.95"/><circle cx="374.00" cy="196.50" r="1.95"/><circle cx="377.50" cy="194.40" r="1.95"/><circle cx="381.00" cy="199.10" r="1.95"/><circle cx="384.50" cy="198.80" r="1.95"/><circle cx="388.00" cy="200.90" r="1.95"/><circle cx="391.80" cy="197.00" r="1.95"/><circle cx="395.30" cy="200.90" r="1.95"/><circle cx="398.80" cy="195.80" r="1.95"/><circle cx="402.20" cy="200.00" r="1.95"/><circle cx="405.70" cy="199.30" r="1.95"/><circle cx="409.20" cy="198.80" r="1.95"/></g>
<path d="M238.4,96.3 L410.6,96.3 L410.6,205.5 L238.4,205.5 Z" fill="none" stroke="#000" stroke-width="1.35"/>
<line x1="232.20" y1="203.00" x2="238.40" y2="203.00" stroke="#000" stroke-width="1.1" />
<text x="231.20" y="206.70" font-size="9.5" text-anchor="end" fill="#000" font-weight="normal" font-style="normal" font-family='"Liberation Sans", sans-serif' stroke="#000" stroke-width="0.3" >0</text>
<line x1="232.20" y1="176.38" x2="238.40" y2="176.38" stroke="#000" stroke-width="1.1" />
<text x="231.20" y="180.08" font-size="9.5" text-anchor="end" fill="#000" font-weight="normal" font-style="normal" font-family='"Liberation Sans", sans-serif' stroke="#000" stroke-width="0.3" >4</text>
<line x1="232.20" y1="149.75" x2="238.40" y2="149.75" stroke="#000" stroke-width="1.1" />
<text x="231.20" y="153.45" font-size="9.5" text-anchor="end" fill="#000" font-weight="normal" font-style="normal" font-family='"Liberation Sans", sans-serif' stroke="#000" stroke-width="0.3" >8</text>
<line x1="232.20" y1="123.13" x2="238.40" y2="123.13" stroke="#000" stroke-width="1.1" />
<text x="231.20" y="126.83" font-size="9.5" text-anchor="end" fill="#000" font-weight="normal" font-style="normal" font-family='"Liberation Sans", sans-serif' stroke="#000" stroke-width="0.3" >12</text>
<line x1="232.20" y1="96.50" x2="238.40" y2="96.50" stroke="#000" stroke-width="1.1" />
<text x="231.20" y="100.20" font-size="9.5" text-anchor="end" fill="#000" font-weight="normal" font-style="normal" font-family='"Liberation Sans", sans-serif' stroke="#000" stroke-width="0.3" >16</text>
<line x1="235.00" y1="189.69" x2="238.40" y2="189.69" stroke="#000" stroke-width="1.1" />
<line x1="235.00" y1="163.06" x2="238.40" y2="163.06" stroke="#000" stroke-width="1.1" />
<line x1="235.00" y1="136.44" x2="238.40" y2="136.44" stroke="#000" stroke-width="1.1" />
<line x1="235.00" y1="109.82" x2="238.40" y2="109.82" stroke="#000" stroke-width="1.1" />
<line x1="240.99" y1="205.50" x2="240.99" y2="211.90" stroke="#000" stroke-width="1.1" />
<text x="240.99" y="220.70" font-size="9.5" text-anchor="middle" fill="#000" font-weight="normal" font-style="normal" font-family='"Liberation Sans", sans-serif' stroke="#000" stroke-width="0.3" >-3</text>
<line x1="325.80" y1="205.50" x2="325.80" y2="211.90" stroke="#000" stroke-width="1.1" />
<text x="325.80" y="220.70" font-size="9.5" text-anchor="middle" fill="#000" font-weight="normal" font-style="normal" font-family='"Liberation Sans", sans-serif' stroke="#000" stroke-width="0.3" >0</text>
<line x1="410.61" y1="205.50" x2="410.61" y2="211.90" stroke="#000" stroke-width="1.1" />
<text x="410.61" y="220.70" font-size="9.5" text-anchor="middle" fill="#000" font-weight="normal" font-style="normal" font-family='"Liberation Sans", sans-serif' stroke="#000" stroke-width="0.3" >3</text>
<line x1="269.26" y1="205.50" x2="269.26" y2="208.90" stroke="#000" stroke-width="1.1" />
<line x1="297.53" y1="205.50" x2="297.53" y2="208.90" stroke="#000" stroke-width="1.1" />
<line x1="354.07" y1="205.50" x2="354.07" y2="208.90" stroke="#000" stroke-width="1.1" />
<line x1="382.34" y1="205.50" x2="382.34" y2="208.90" stroke="#000" stroke-width="1.1" />
<text x="324.30" y="232.40" font-size="9.5" text-anchor="middle" fill="#000" font-weight="normal" font-style="normal" font-family='"Liberation Sans", sans-serif' stroke="#000" stroke-width="0.3" >Frequency (MHz)</text>
<text x="217.20" y="149.00" font-size="9.5" text-anchor="middle" fill="#000" font-weight="normal" font-style="normal" font-family='"Liberation Sans", sans-serif' stroke="#000" stroke-width="0.3" transform="rotate(-90 217.2 149.0)">Amplitude (a.u.)</text>
<text x="248.40" y="119.00" font-size="9.3" text-anchor="start" fill="#000" font-weight="normal" font-style="normal" font-family='"Liberation Sans", sans-serif' stroke="#000" stroke-width="0.3" ><tspan font-style="italic">Δ</tspan> = -261 kHz</text>
<text x="248.40" y="130.20" font-size="9.3" text-anchor="start" fill="#000" font-weight="normal" font-style="normal" font-family='"Liberation Sans", sans-serif' stroke="#000" stroke-width="0.3" ><tspan font-style="italic">P</tspan> ~ 93%</text>
<text x="200.10" y="253.30" font-size="9.2" text-anchor="start" fill="#000" font-weight="bold" font-style="normal" font-family='"Liberation Sans", sans-serif' stroke="#000" stroke-width="0.3" >(e)</text>
<path d="M238.45,365.36 L238.69,365.36 L238.94,365.36 L239.18,365.36 L239.43,365.36 L239.68,365.35 L239.92,365.35 L240.17,365.35 L240.42,365.35 L240.66,365.35 L240.91,365.35 L241.16,365.34 L241.40,365.34 L241.65,365.34 L241.89,365.34 L242.14,365.34 L242.39,365.34 L242.63,365.33 L242.88,365.33 L243.13,365.33 L243.37,365.33 L243.62,365.33 L243.86,365.32 L244.11,365.32 L244.36,365.32 L244.60,365.32 L244.85,365.32 L245.10,365.32 L245.34,365.31 L245.59,365.31 L245.83,365.31 L246.08,365.31 L246.33,365.31 L246.57,365.30 L246.82,365.30 L247.07,365.30 L247.31,365.30 L247.56,365.30 L247.81,365.29 L248.05,365.29 L248.30,365.29 L248.54,365.29 L248.79,365.29 L249.04,365.28 L249.28,365.28 L249.53,365.28 L249.78,365.28 L250.02,365.27 L250.27,365.27 L250.51,365.27 L250.76,365.27 L251.01,365.27 L251.25,365.26 L251.50,365.26 L251.75,365.26 L251.99,365.26 L252.24,365.25 L252.48,365.25 L252.73,365.25 L252.98,365.25 L253.22,365.24 L253.47,365.24 L253.72,365.24 L253.96,365.24 L254.21,365.23 L254.46,365.23 L254.70,365.23 L254.95,365.23 L255.19,365.22 L255.44,365.22 L255.69,365.22 L255.93,365.21 L256.18,365.21 L256.43,365.21 L256.67,365.21 L256.92,365.20 L257.16,365.20 L257.41,365.20 L257.66,365.19 L257.90,365.19 L258.15,365.19 L258.40,365.19 L258.64,365.18 L258.89,365.18 L259.13,365.18 L259.38,365.17 L259.63,365.17 L259.87,365.17 L260.12,365.16 L260.37,365.16 L260.61,365.16 L260.86,365.15 L261.11,365.15 L261.35,365.15 L261.60,365.14 L261.84,365.14 L262.09,365.14 L262.34,365.13 L262.58,365.13 L262.83,365.13 L263.08,365.12 L263.32,365.12 L263.57,365.12 L263.81,365.11 L264.06,365.11 L264.31,365.10 L264.55,365.10 L264.80,365.10 L265.05,365.09 L265.29,365.09 L265.54,365.09 L265.79,365.08 L266.03,365.08 L266.28,365.07 L266.52,365.07 L266.77,365.06 L267.02,365.06 L267.26,365.06 L267.51,365.05 L267.76,365.05 L268.00,365.04 L268.25,365.04 L268.49,365.03 L268.74,365.03 L268.99,365.02 L269.23,365.02 L269.48,365.02 L269.73,365.01 L269.97,365.01 L270.22,365.00 L270.46,365.00 L270.71,364.99 L270.96,364.99 L271.20,364.98 L271.45,364.98 L271.70,364.97 L271.94,364.97 L272.19,364.96 L272.44,364.95 L272.68,364.95 L272.93,364.94 L273.17,364.94 L273.42,364.93 L273.67,364.93 L273.91,364.92 L274.16,364.92 L274.41,364.91 L274.65,364.90 L274.90,364.90 L275.14,364.89 L275.39,364.89 L275.64,364.88 L275.88,364.87 L276.13,364.87 L276.38,364.86 L276.62,364.85 L276.87,364.85 L277.11,364.84 L277.36,364.83 L277.61,364.83 L277.85,364.82 L278.10,364.81 L278.35,364.80 L278.59,364.80 L278.84,364.79 L279.09,364.78 L279.33,364.78 L279.58,364.77 L279.82,364.76 L280.07,364.75 L280.32,364.74 L280.56,364.74 L280.81,364.73 L281.06,364.72 L281.30,364.71 L281.55,364.70 L281.79,364.69 L282.04,364.69 L282.29,364.68 L282.53,364.67 L282.78,364.66 L283.03,364.65 L283.27,364.64 L283.52,364.63 L283.77,364.62 L284.01,364.61 L284.26,364.60 L284.50,364.59 L284.75,364.58 L285.00,364.57 L285.24,364.56 L285.49,364.55 L285.74,364.54 L285.98,364.53 L286.23,364.52 L286.47,364.51 L286.72,364.49 L286.97,364.48 L287.21,364.47 L287.46,364.46 L287.71,364.45 L287.95,364.43 L288.20,364.42 L288.44,364.41 L288.69,364.40 L288.94,364.38 L289.18,364.37 L289.43,364.36 L289.68,364.34 L289.92,364.33 L290.17,364.31 L290.42,364.30 L290.66,364.29 L290.91,364.27 L291.15,364.26 L291.40,364.24 L291.65,364.22 L291.89,364.21 L292.14,364.19 L292.39,364.18 L292.63,364.16 L292.88,364.14 L293.12,364.13 L293.37,364.11 L293.62,364.09 L293.86,364.07 L294.11,364.05 L294.36,364.03 L294.60,364.01 L294.85,363.99 L295.09,363.97 L295.34,363.95 L295.59,363.93 L295.83,363.91 L296.08,363.89 L296.33,363.87 L296.57,363.85 L296.82,363.82 L297.07,363.80 L297.31,363.78 L297.56,363.75 L297.80,363.73 L298.05,363.70 L298.30,363.68 L298.54,363.65 L298.79,363.62 L299.04,363.59 L299.28,363.57 L299.53,363.54 L299.77,363.51 L300.02,363.48 L300.27,363.45 L300.51,363.42 L300.76,363.38 L301.01,363.35 L301.25,363.32 L301.50,363.28 L301.75,363.25 L301.99,363.21 L302.24,363.17 L302.48,363.13 L302.73,363.10 L302.98,363.06 L303.22,363.01 L303.47,362.97 L303.72,362.93 L303.96,362.88 L304.21,362.84 L304.45,362.79 L304.70,362.74 L304.95,362.69 L305.19,362.64 L305.44,362.59 L305.69,362.54 L305.93,362.48 L306.18,362.42 L306.42,362.36 L306.67,362.30 L306.92,362.24 L307.16,362.17 L307.41,362.10 L307.66,362.03 L307.90,361.96 L308.15,361.89 L308.40,361.81 L308.64,361.73 L308.89,361.65 L309.13,361.56 L309.38,361.47 L309.63,361.37 L309.87,361.28 L310.12,361.17 L310.37,361.07 L310.61,360.96 L310.86,360.84 L311.10,360.72 L311.35,360.59 L311.60,360.46 L311.84,360.32 L312.09,360.17 L312.34,360.02 L312.58,359.86 L312.83,359.69 L313.07,359.51 L313.32,359.32 L313.57,359.12 L313.81,358.90 L314.06,358.67 L314.31,358.43 L314.55,358.18 L314.80,357.91 L315.05,357.62 L315.29,357.31 L315.54,356.97 L315.78,356.62 L316.03,356.24 L316.28,355.84 L316.52,355.41 L316.77,354.94 L317.02,354.45 L317.26,353.93 L317.51,353.37 L317.75,352.78 L318.00,352.16 L318.25,351.51 L318.49,350.83 L318.74,350.14 L318.99,349.43 L319.23,348.73 L319.48,348.05 L319.72,347.39 L319.97,346.79 L320.22,346.26 L320.46,345.81 L320.71,345.46 L320.96,345.22 L321.20,345.09 L321.45,345.08 L321.70,345.17 L321.94,345.34 L322.19,345.59 L322.43,345.89 L322.68,346.23 L322.93,346.58 L323.17,346.94 L323.42,347.28 L323.67,347.60 L323.91,347.90 L324.16,348.15 L324.40,348.37 L324.65,348.55 L324.90,348.69 L325.14,348.78 L325.39,348.84 L325.64,348.85 L325.88,348.82 L326.13,348.75 L326.38,348.63 L326.62,348.48 L326.87,348.30 L327.11,348.07 L327.36,347.80 L327.61,347.50 L327.85,347.15 L328.10,346.77 L328.35,346.35 L328.59,345.88 L328.84,345.37 L329.08,344.82 L329.33,344.23 L329.58,343.58 L329.82,342.89 L330.07,342.14 L330.32,341.33 L330.56,340.47 L330.81,339.55 L331.05,338.56 L331.30,337.50 L331.55,336.37 L331.79,335.15 L332.04,333.86 L332.29,332.47 L332.53,331.00 L332.78,329.42 L333.03,327.75 L333.27,325.96 L333.52,324.07 L333.76,322.05 L334.01,319.93 L334.26,317.68 L334.50,315.32 L334.75,312.85 L335.00,310.27 L335.24,307.60 L335.49,304.85 L335.73,302.04 L335.98,299.21 L336.23,296.39 L336.47,293.61 L336.72,290.92 L336.97,288.38 L337.21,286.05 L337.46,283.98 L337.70,282.22 L337.95,280.84 L338.20,279.87 L338.44,279.35 L338.69,279.29 L338.94,279.69 L339.18,280.55 L339.43,281.84 L339.68,283.51 L339.92,285.52 L340.17,287.81 L340.41,290.32 L340.66,292.99 L340.91,295.78 L341.15,298.63 L341.40,301.49 L341.65,304.35 L341.89,307.15 L342.14,309.88 L342.38,312.53 L342.63,315.08 L342.88,317.51 L343.12,319.84 L343.37,322.04 L343.62,324.14 L343.86,326.11 L344.11,327.98 L344.36,329.74 L344.60,331.40 L344.85,332.96 L345.09,334.43 L345.34,335.82 L345.59,337.12 L345.83,338.34 L346.08,339.49 L346.33,340.58 L346.57,341.60 L346.82,342.57 L347.06,343.48 L347.31,344.33 L347.56,345.15 L347.80,345.91 L348.05,346.64 L348.30,347.32 L348.54,347.97 L348.79,348.59 L349.03,349.18 L349.28,349.73 L349.53,350.26 L349.77,350.76 L350.02,351.24 L350.27,351.69 L350.51,352.13 L350.76,352.54 L351.01,352.94 L351.25,353.31 L351.50,353.68 L351.74,354.02 L351.99,354.35 L352.24,354.67 L352.48,354.97 L352.73,355.26 L352.98,355.54 L353.22,355.81 L353.47,356.06 L353.71,356.31 L353.96,356.55 L354.21,356.78 L354.45,357.00 L354.70,357.21 L354.95,357.41 L355.19,357.61 L355.44,357.80 L355.68,357.99 L355.93,358.16 L356.18,358.33 L356.42,358.50 L356.67,358.66 L356.92,358.81 L357.16,358.96 L357.41,359.11 L357.66,359.25 L357.90,359.38 L358.15,359.51 L358.39,359.64 L358.64,359.77 L358.89,359.89 L359.13,360.00 L359.38,360.11 L359.63,360.22 L359.87,360.33 L360.12,360.43 L360.36,360.53 L360.61,360.63 L360.86,360.73 L361.10,360.82 L361.35,360.91 L361.60,360.99 L361.84,361.08 L362.09,361.16 L362.34,361.24 L362.58,361.32 L362.83,361.40 L363.07,361.47 L363.32,361.54 L363.57,361.61 L363.81,361.68 L364.06,361.75 L364.31,361.81 L364.55,361.88 L364.80,361.94 L365.04,362.00 L365.29,362.06 L365.54,362.12 L365.78,362.18 L366.03,362.23 L366.28,362.28 L366.52,362.34 L366.77,362.39 L367.01,362.44 L367.26,362.49 L367.51,362.54 L367.75,362.58 L368.00,362.63 L368.25,362.67 L368.49,362.72 L368.74,362.76 L368.99,362.80 L369.23,362.85 L369.48,362.89 L369.72,362.93 L369.97,362.96 L370.22,363.00 L370.46,363.04 L370.71,363.08 L370.96,363.11 L371.20,363.15 L371.45,363.18 L371.69,363.21 L371.94,363.25 L372.19,363.28 L372.43,363.31 L372.68,363.34 L372.93,363.37 L373.17,363.40 L373.42,363.43 L373.66,363.46 L373.91,363.49 L374.16,363.52 L374.40,363.54 L374.65,363.57 L374.90,363.60 L375.14,363.62 L375.39,363.65 L375.64,363.67 L375.88,363.70 L376.13,363.72 L376.37,363.74 L376.62,363.77 L376.87,363.79 L377.11,363.81 L377.36,363.83 L377.61,363.85 L377.85,363.87 L378.10,363.90 L378.34,363.92 L378.59,363.94 L378.84,363.96 L379.08,363.97 L379.33,363.99 L379.58,364.01 L379.82,364.03 L380.07,364.05 L380.31,364.07 L380.56,364.08 L380.81,364.10 L381.05,364.12 L381.30,364.14 L381.55,364.15 L381.79,364.17 L382.04,364.18 L382.29,364.20 L382.53,364.22 L382.78,364.23 L383.02,364.25 L383.27,364.26 L383.52,364.27 L383.76,364.29 L384.01,364.30 L384.26,364.32 L384.50,364.33 L384.75,364.34 L384.99,364.36 L385.24,364.37 L385.49,364.38 L385.73,364.40 L385.98,364.41 L386.23,364.42 L386.47,364.43 L386.72,364.44 L386.97,364.46 L387.21,364.47 L387.46,364.48 L387.70,364.49 L387.95,364.50 L388.20,364.51 L388.44,364.52 L388.69,364.53 L388.94,364.55 L389.18,364.56 L389.43,364.57 L389.67,364.58 L389.92,364.59 L390.17,364.60 L390.41,364.61 L390.66,364.62 L390.91,364.62 L391.15,364.63 L391.40,364.64 L391.64,364.65 L391.89,364.66 L392.14,364.67 L392.38,364.68 L392.63,364.69 L392.88,364.70 L393.12,364.70 L393.37,364.71 L393.62,364.72 L393.86,364.73 L394.11,364.74 L394.35,364.74 L394.60,364.75 L394.85,364.76 L395.09,364.77 L395.34,364.78 L395.59,364.78 L395.83,364.79 L396.08,364.80 L396.32,364.80 L396.57,364.81 L396.82,364.82 L397.06,364.83 L397.31,364.83 L397.56,364.84 L397.80,364.85 L398.05,364.85 L398.29,364.86 L398.54,364.86 L398.79,364.87 L399.03,364.88 L399.28,364.88 L399.53,364.89 L399.77,364.90 L400.02,364.90 L400.27,364.91 L400.51,364.91 L400.76,364.92 L401.00,364.93 L401.25,364.93 L401.50,364.94 L401.74,364.94 L401.99,364.95 L402.24,364.95 L402.48,364.96 L402.73,364.96 L402.97,364.97 L403.22,364.97 L403.47,364.98 L403.71,364.98 L403.96,364.99 L404.21,364.99 L404.45,365.00 L404.70,365.00 L404.95,365.01 L405.19,365.01 L405.44,365.02 L405.68,365.02 L405.93,365.03 L406.18,365.03 L406.42,365.04 L406.67,365.04 L406.92,365.04 L407.16,365.05 L407.41,365.05 L407.65,365.06 L407.90,365.06 L408.15,365.07 L408.39,365.07 L408.64,365.07 L408.89,365.08 L409.13,365.08 L409.38,365.09 L409.62,365.09 L409.87,365.09 L410.12,365.10 L410.36,365.10 L410.61,365.11" fill="none" stroke="#ff0000" stroke-width="1.9"/>
<g fill="#6e0000"><circle cx="240.70" cy="366.00" r="1.95"/><circle cx="244.10" cy="365.80" r="1.95"/><circle cx="247.50" cy="367.50" r="1.95"/><circle cx="251.30" cy="363.80" r="1.95"/><circle cx="254.60" cy="366.00" r="1.95"/><circle cx="258.00" cy="365.00" r="1.95"/><circle cx="261.80" cy="360.80" r="1.95"/><circle cx="265.50" cy="366.90" r="1.95"/><circle cx="269.00" cy="362.10" r="1.95"/><circle cx="272.40" cy="361.60" r="1.95"/><circle cx="276.00" cy="360.40" r="1.95"/><circle cx="279.70" cy="361.60" r="1.95"/><circle cx="283.10" cy="367.20" r="1.95"/><circle cx="286.50" cy="363.00" r="1.95"/><circle cx="289.90" cy="365.50" r="1.95"/><circle cx="293.30" cy="365.50" r="1.95"/><circle cx="296.70" cy="365.00" r="1.95"/><circle cx="300.70" cy="360.10" r="1.95"/><circle cx="304.30" cy="364.70" r="1.95"/><circle cx="307.60" cy="361.90" r="1.95"/><circle cx="311.40" cy="354.30" r="1.95"/><circle cx="314.80" cy="359.30" r="1.95"/><circle cx="318.30" cy="347.40" r="1.95"/><circle cx="322.10" cy="345.40" r="1.95"/><circle cx="325.40" cy="357.10" r="1.95"/><circle cx="329.30" cy="351.70" r="1.95"/><circle cx="332.60" cy="317.00" r="1.95"/><circle cx="336.10" cy="300.00" r="1.95"/><circle cx="339.40" cy="281.40" r="1.95"/><circle cx="343.30" cy="322.80" r="1.95"/><circle cx="346.80" cy="345.40" r="1.95"/><circle cx="350.40" cy="351.70" r="1.95"/><circle cx="354.00" cy="356.50" r="1.95"/><circle cx="357.40" cy="356.20" r="1.95"/><circle cx="360.90" cy="360.50" r="1.95"/><circle cx="364.40" cy="358.80" r="1.95"/><circle cx="367.90" cy="356.20" r="1.95"/><circle cx="371.40" cy="365.70" r="1.95"/><circle cx="374.90" cy="360.50" r="1.95"/><circle cx="378.70" cy="361.40" r="1.95"/><circle cx="382.20" cy="361.70" r="1.95"/><circle cx="385.70" cy="362.80" r="1.95"/><circle cx="389.20" cy="362.80" r="1.95"/><circle cx="392.60" cy="367.10" r="1.95"/><circle cx="396.10" cy="364.00" r="1.95"/><circle cx="399.80" cy="366.60" r="1.95"/><circle cx="403.30" cy="364.90" r="1.95"/><circle cx="406.80" cy="364.90" r="1.95"/><circle cx="410.30" cy="365.70" r="1.95"/></g>
<path d="M238.4,262.3 L410.6,262.3 L410.6,371.5 L238.4,371.5 Z" fill="none" stroke="#000" stroke-width="1.35"/>
<line x1="232.20" y1="369.00" x2="238.40" y2="369.00" stroke="#000" stroke-width="1.1" />
<text x="231.20" y="372.70" font-size="9.5" text-anchor="end" fill="#000" font-weight="normal" font-style="normal" font-family='"Liberation Sans", sans-serif' stroke="#000" stroke-width="0.3" >0</text>
<line x1="232.20" y1="342.38" x2="238.40" y2="342.38" stroke="#000" stroke-width="1.1" />
<text x="231.20" y="346.08" font-size="9.5" text-anchor="end" fill="#000" font-weight="normal" font-style="normal" font-family='"Liberation Sans", sans-serif' stroke="#000" stroke-width="0.3" >4</text>
<line x1="232.20" y1="315.75" x2="238.40" y2="315.75" stroke="#000" stroke-width="1.1" />
<text x="231.20" y="319.45" font-size="9.5" text-anchor="end" fill="#000" font-weight="normal" font-style="normal" font-family='"Liberation Sans", sans-serif' stroke="#000" stroke-width="0.3" >8</text>
<line x1="232.20" y1="289.13" x2="238.40" y2="289.13" stroke="#000" stroke-width="1.1" />
<text x="231.20" y="292.83" font-size="9.5" text-anchor="end" fill="#000" font-weight="normal" font-style="normal" font-family='"Liberation Sans", sans-serif' stroke="#000" stroke-width="0.3" >12</text>
<line x1="232.20" y1="262.50" x2="238.40" y2="262.50" stroke="#000" stroke-width="1.1" />
<text x="231.20" y="266.20" font-size="9.5" text-anchor="end" fill="#000" font-weight="normal" font-style="normal" font-family='"Liberation Sans", sans-serif' stroke="#000" stroke-width="0.3" >16</text>
<line x1="235.00" y1="355.69" x2="238.40" y2="355.69" stroke="#000" stroke-width="1.1" />
<line x1="235.00" y1="329.06" x2="238.40" y2="329.06" stroke="#000" stroke-width="1.1" />
<line x1="235.00" y1="302.44" x2="238.40" y2="302.44" stroke="#000" stroke-width="1.1" />
<line x1="235.00" y1="275.82" x2="238.40" y2="275.82" stroke="#000" stroke-width="1.1" />
<line x1="240.99" y1="371.50" x2="240.99" y2="377.90" stroke="#000" stroke-width="1.1" />
<text x="240.99" y="386.70" font-size="9.5" text-anchor="middle" fill="#000" font-weight="normal" font-style="normal" font-family='"Liberation Sans", sans-serif' stroke="#000" stroke-width="0.3" >-3</text>
<line x1="325.80" y1="371.50" x2="325.80" y2="377.90" stroke="#000" stroke-width="1.1" />
<text x="325.80" y="386.70" font-size="9.5" text-anchor="middle" fill="#000" font-weight="normal" font-style="normal" font-family='"Liberation Sans", sans-serif' stroke="#000" stroke-width="0.3" >0</text>
<line x1="410.61" y1="371.50" x2="410.61" y2="377.90" stroke="#000" stroke-width="1.1" />
<text x="410.61" y="386.70" font-size="9.5" text-anchor="middle" fill="#000" font-weight="normal" font-style="normal" font-family='"Liberation Sans", sans-serif' stroke="#000" stroke-width="0.3" >3</text>
<line x1="269.26" y1="371.50" x2="269.26" y2="374.90" stroke="#000" stroke-width="1.1" />
<line x1="297.53" y1="371.50" x2="297.53" y2="374.90" stroke="#000" stroke-width="1.1" />
<line x1="354.07" y1="371.50" x2="354.07" y2="374.90" stroke="#000" stroke-width="1.1" />
<line x1="382.34" y1="371.50" x2="382.34" y2="374.90" stroke="#000" stroke-width="1.1" />
<text x="326.80" y="399.30" font-size="9.5" text-anchor="middle" fill="#000" font-weight="normal" font-style="normal" font-family='"Liberation Sans", sans-serif' stroke="#000" stroke-width="0.3" >Frequency (MHz)</text>
<text x="217.20" y="315.00" font-size="9.5" text-anchor="middle" fill="#000" font-weight="normal" font-style="normal" font-family='"Liberation Sans", sans-serif' stroke="#000" stroke-width="0.3" transform="rotate(-90 217.2 315.0)">Amplitude (a.u.)</text>
<text x="248.40" y="285.00" font-size="9.3" text-anchor="start" fill="#000" font-weight="normal" font-style="normal" font-family='"Liberation Sans", sans-serif' stroke="#000" stroke-width="0.3" ><tspan font-style="italic">Δ</tspan> = 243 kHz</text>
<text x="248.40" y="296.20" font-size="9.3" text-anchor="start" fill="#000" font-weight="normal" font-style="normal" font-family='"Liberation Sans", sans-serif' stroke="#000" stroke-width="0.3" ><tspan font-style="italic">P</tspan> ~ 75%</text>
</svg>
</body></html>
